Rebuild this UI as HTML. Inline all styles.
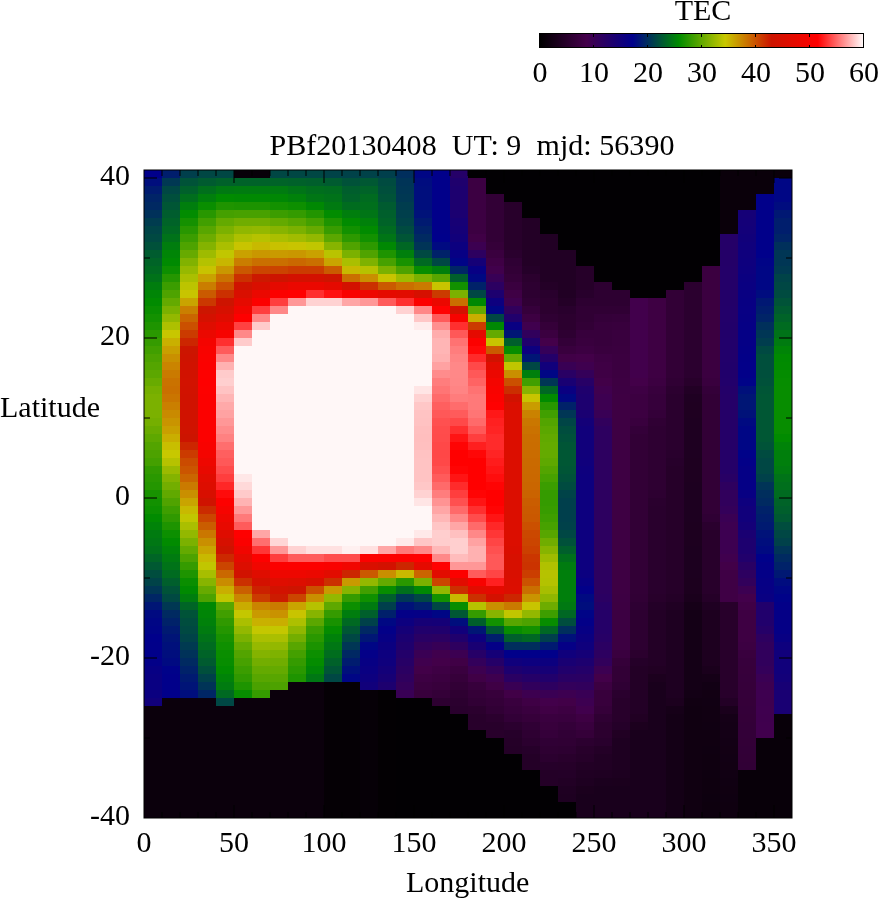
<!DOCTYPE html>
<html><head><meta charset="utf-8"><title>TEC map</title>
<style>html,body{margin:0;padding:0;background:#fff}svg{display:block}</style></head>
<body>
<svg width="878" height="900" viewBox="0 0 878 900">
<rect width="878" height="900" fill="#fff"/>
<g shape-rendering="crispEdges">
<rect x="144" y="170" width="648" height="648" fill="#000"/>
<rect x="144" y="170" width="18" height="8" fill="#01008a"/>
<rect x="144" y="178" width="18" height="8" fill="#000e7d"/>
<rect x="144" y="186" width="18" height="8" fill="#001b70"/>
<rect x="144" y="194" width="18" height="8" fill="#002467"/>
<rect x="144" y="202" width="18" height="8" fill="#002962"/>
<rect x="144" y="210" width="18" height="8" fill="#00315a"/>
<rect x="144" y="218" width="18" height="8" fill="#003c4f"/>
<rect x="144" y="226" width="18" height="8" fill="#004447"/>
<rect x="144" y="234" width="18" height="8" fill="#004942"/>
<rect x="144" y="242" width="18" height="8" fill="#00513a"/>
<rect x="144" y="250" width="18" height="8" fill="#005c2f"/>
<rect x="144" y="258" width="18" height="8" fill="#006427"/>
<rect x="144" y="266" width="18" height="8" fill="#006a21"/>
<rect x="144" y="274" width="18" height="8" fill="#007219"/>
<rect x="144" y="282" width="18" height="8" fill="#007d0e"/>
<rect x="144" y="290" width="18" height="8" fill="#008506"/>
<rect x="144" y="298" width="18" height="8" fill="#018b00"/>
<rect x="144" y="306" width="18" height="8" fill="#0a8e00"/>
<rect x="144" y="314" width="18" height="8" fill="#139100"/>
<rect x="144" y="322" width="18" height="8" fill="#1e9400"/>
<rect x="144" y="330" width="18" height="8" fill="#2a9800"/>
<rect x="144" y="338" width="18" height="8" fill="#359b00"/>
<rect x="144" y="346" width="18" height="8" fill="#419f00"/>
<rect x="144" y="354" width="18" height="8" fill="#4ca200"/>
<rect x="144" y="362" width="18" height="8" fill="#54a500"/>
<rect x="144" y="370" width="18" height="8" fill="#5ca700"/>
<rect x="144" y="378" width="18" height="8" fill="#68ab00"/>
<rect x="144" y="386" width="18" height="8" fill="#75af00"/>
<rect x="144" y="394" width="18" height="24" fill="#7bb100"/>
<rect x="144" y="418" width="18" height="8" fill="#75af00"/>
<rect x="144" y="426" width="18" height="8" fill="#6aab00"/>
<rect x="144" y="434" width="18" height="8" fill="#5ea800"/>
<rect x="144" y="442" width="18" height="8" fill="#53a400"/>
<rect x="144" y="450" width="18" height="8" fill="#4da200"/>
<rect x="144" y="458" width="18" height="8" fill="#44a000"/>
<rect x="144" y="466" width="18" height="8" fill="#329a00"/>
<rect x="144" y="474" width="18" height="8" fill="#2a9800"/>
<rect x="144" y="482" width="18" height="8" fill="#249600"/>
<rect x="144" y="490" width="18" height="8" fill="#189200"/>
<rect x="144" y="498" width="18" height="8" fill="#129100"/>
<rect x="144" y="506" width="18" height="8" fill="#0c8f00"/>
<rect x="144" y="514" width="18" height="8" fill="#018b00"/>
<rect x="144" y="522" width="18" height="8" fill="#008308"/>
<rect x="144" y="530" width="18" height="8" fill="#007b10"/>
<rect x="144" y="538" width="18" height="8" fill="#007714"/>
<rect x="144" y="546" width="18" height="8" fill="#00711a"/>
<rect x="144" y="554" width="18" height="8" fill="#006526"/>
<rect x="144" y="562" width="18" height="8" fill="#005932"/>
<rect x="144" y="570" width="18" height="8" fill="#004d3e"/>
<rect x="144" y="578" width="18" height="8" fill="#004348"/>
<rect x="144" y="586" width="18" height="8" fill="#003655"/>
<rect x="144" y="594" width="18" height="8" fill="#002665"/>
<rect x="144" y="602" width="18" height="8" fill="#001675"/>
<rect x="144" y="610" width="18" height="8" fill="#000a81"/>
<rect x="144" y="618" width="18" height="8" fill="#000685"/>
<rect x="144" y="626" width="18" height="8" fill="#000487"/>
<rect x="144" y="634" width="18" height="8" fill="#00008b"/>
<rect x="144" y="642" width="18" height="16" fill="#01008a"/>
<rect x="144" y="658" width="18" height="8" fill="#030088"/>
<rect x="144" y="666" width="18" height="8" fill="#070084"/>
<rect x="144" y="674" width="18" height="16" fill="#090082"/>
<rect x="144" y="690" width="18" height="8" fill="#0b0080"/>
<rect x="144" y="698" width="18" height="8" fill="#11007b"/>
<rect x="144" y="706" width="18" height="112" fill="#0b000c"/>
<rect x="162" y="170" width="18" height="8" fill="#001e6d"/>
<rect x="162" y="178" width="18" height="8" fill="#003853"/>
<rect x="162" y="186" width="18" height="8" fill="#004744"/>
<rect x="162" y="194" width="18" height="8" fill="#004f3c"/>
<rect x="162" y="202" width="18" height="8" fill="#005635"/>
<rect x="162" y="210" width="18" height="8" fill="#005d2e"/>
<rect x="162" y="218" width="18" height="8" fill="#006328"/>
<rect x="162" y="226" width="18" height="8" fill="#006922"/>
<rect x="162" y="234" width="18" height="8" fill="#007219"/>
<rect x="162" y="242" width="18" height="8" fill="#007d0e"/>
<rect x="162" y="250" width="18" height="8" fill="#008506"/>
<rect x="162" y="258" width="18" height="8" fill="#008a01"/>
<rect x="162" y="266" width="18" height="8" fill="#0d8f00"/>
<rect x="162" y="274" width="18" height="8" fill="#259600"/>
<rect x="162" y="282" width="18" height="8" fill="#3b9d00"/>
<rect x="162" y="290" width="18" height="8" fill="#4ea300"/>
<rect x="162" y="298" width="18" height="8" fill="#64aa00"/>
<rect x="162" y="306" width="18" height="8" fill="#7bb100"/>
<rect x="162" y="314" width="18" height="8" fill="#93b800"/>
<rect x="162" y="322" width="18" height="8" fill="#adc000"/>
<rect x="162" y="330" width="18" height="8" fill="#c8c600"/>
<rect x="162" y="338" width="18" height="8" fill="#c9b000"/>
<rect x="162" y="346" width="18" height="8" fill="#c99f00"/>
<rect x="162" y="354" width="18" height="8" fill="#c99000"/>
<rect x="162" y="362" width="18" height="8" fill="#ca8400"/>
<rect x="162" y="370" width="18" height="8" fill="#ca7a00"/>
<rect x="162" y="378" width="18" height="8" fill="#ca7200"/>
<rect x="162" y="386" width="18" height="8" fill="#ca6f00"/>
<rect x="162" y="394" width="18" height="8" fill="#ca7500"/>
<rect x="162" y="402" width="18" height="8" fill="#ca7f00"/>
<rect x="162" y="410" width="18" height="8" fill="#c98a00"/>
<rect x="162" y="418" width="18" height="8" fill="#c99400"/>
<rect x="162" y="426" width="18" height="8" fill="#c99f00"/>
<rect x="162" y="434" width="18" height="8" fill="#c9ae00"/>
<rect x="162" y="442" width="18" height="8" fill="#c8be00"/>
<rect x="162" y="450" width="18" height="8" fill="#c7c800"/>
<rect x="162" y="458" width="18" height="8" fill="#b6c200"/>
<rect x="162" y="466" width="18" height="8" fill="#9bba00"/>
<rect x="162" y="474" width="18" height="8" fill="#84b300"/>
<rect x="162" y="482" width="18" height="8" fill="#73ae00"/>
<rect x="162" y="490" width="18" height="8" fill="#61a900"/>
<rect x="162" y="498" width="18" height="8" fill="#50a300"/>
<rect x="162" y="506" width="18" height="8" fill="#3e9e00"/>
<rect x="162" y="514" width="18" height="8" fill="#309900"/>
<rect x="162" y="522" width="18" height="8" fill="#1e9400"/>
<rect x="162" y="530" width="18" height="8" fill="#0c8f00"/>
<rect x="162" y="538" width="18" height="8" fill="#018b00"/>
<rect x="162" y="546" width="18" height="8" fill="#008308"/>
<rect x="162" y="554" width="18" height="8" fill="#007b10"/>
<rect x="162" y="562" width="18" height="8" fill="#007318"/>
<rect x="162" y="570" width="18" height="8" fill="#006b20"/>
<rect x="162" y="578" width="18" height="8" fill="#005f2c"/>
<rect x="162" y="586" width="18" height="8" fill="#005338"/>
<rect x="162" y="594" width="18" height="8" fill="#004942"/>
<rect x="162" y="602" width="18" height="8" fill="#003853"/>
<rect x="162" y="610" width="18" height="8" fill="#002a61"/>
<rect x="162" y="618" width="18" height="8" fill="#002269"/>
<rect x="162" y="626" width="18" height="8" fill="#001a71"/>
<rect x="162" y="634" width="18" height="8" fill="#001477"/>
<rect x="162" y="642" width="18" height="8" fill="#00107b"/>
<rect x="162" y="650" width="18" height="8" fill="#000e7d"/>
<rect x="162" y="658" width="18" height="8" fill="#000a81"/>
<rect x="162" y="666" width="18" height="8" fill="#000289"/>
<rect x="162" y="674" width="18" height="24" fill="#01008a"/>
<rect x="162" y="698" width="18" height="120" fill="#0b000c"/>
<rect x="180" y="170" width="18" height="8" fill="#003f4c"/>
<rect x="180" y="178" width="18" height="8" fill="#005338"/>
<rect x="180" y="186" width="18" height="8" fill="#00602b"/>
<rect x="180" y="194" width="18" height="8" fill="#006e1d"/>
<rect x="180" y="202" width="18" height="8" fill="#007e0d"/>
<rect x="180" y="210" width="18" height="8" fill="#028c00"/>
<rect x="180" y="218" width="18" height="8" fill="#159100"/>
<rect x="180" y="226" width="18" height="8" fill="#289700"/>
<rect x="180" y="234" width="18" height="8" fill="#3b9d00"/>
<rect x="180" y="242" width="18" height="8" fill="#4ea300"/>
<rect x="180" y="250" width="18" height="8" fill="#67aa00"/>
<rect x="180" y="258" width="18" height="8" fill="#81b200"/>
<rect x="180" y="266" width="18" height="8" fill="#96b900"/>
<rect x="180" y="274" width="18" height="8" fill="#aabf00"/>
<rect x="180" y="282" width="18" height="8" fill="#bcc400"/>
<rect x="180" y="290" width="18" height="8" fill="#c8c400"/>
<rect x="180" y="298" width="18" height="8" fill="#c9a400"/>
<rect x="180" y="306" width="18" height="8" fill="#ca7f00"/>
<rect x="180" y="314" width="18" height="8" fill="#ca6500"/>
<rect x="180" y="322" width="18" height="8" fill="#cb5000"/>
<rect x="180" y="330" width="18" height="8" fill="#cb3b00"/>
<rect x="180" y="338" width="18" height="8" fill="#cc2600"/>
<rect x="180" y="346" width="18" height="8" fill="#cc1500"/>
<rect x="180" y="354" width="18" height="8" fill="#ce1300"/>
<rect x="180" y="362" width="18" height="8" fill="#d01200"/>
<rect x="180" y="370" width="18" height="8" fill="#d11200"/>
<rect x="180" y="378" width="18" height="8" fill="#d21200"/>
<rect x="180" y="386" width="18" height="8" fill="#d11200"/>
<rect x="180" y="394" width="18" height="32" fill="#d01200"/>
<rect x="180" y="426" width="18" height="8" fill="#cf1300"/>
<rect x="180" y="434" width="18" height="8" fill="#cc1400"/>
<rect x="180" y="442" width="18" height="8" fill="#cc2600"/>
<rect x="180" y="450" width="18" height="8" fill="#cb3b00"/>
<rect x="180" y="458" width="18" height="8" fill="#cb4b00"/>
<rect x="180" y="466" width="18" height="8" fill="#cb5500"/>
<rect x="180" y="474" width="18" height="8" fill="#ca6500"/>
<rect x="180" y="482" width="18" height="8" fill="#ca7a00"/>
<rect x="180" y="490" width="18" height="8" fill="#c98f00"/>
<rect x="180" y="498" width="18" height="8" fill="#c9a400"/>
<rect x="180" y="506" width="18" height="8" fill="#c8b900"/>
<rect x="180" y="514" width="18" height="8" fill="#c1c600"/>
<rect x="180" y="522" width="18" height="8" fill="#aabf00"/>
<rect x="180" y="530" width="18" height="8" fill="#93b800"/>
<rect x="180" y="538" width="18" height="8" fill="#7bb100"/>
<rect x="180" y="546" width="18" height="8" fill="#64aa00"/>
<rect x="180" y="554" width="18" height="8" fill="#4da200"/>
<rect x="180" y="562" width="18" height="8" fill="#359b00"/>
<rect x="180" y="570" width="18" height="8" fill="#1e9400"/>
<rect x="180" y="578" width="18" height="8" fill="#0a8e00"/>
<rect x="180" y="586" width="18" height="8" fill="#008a01"/>
<rect x="180" y="594" width="18" height="8" fill="#007d0e"/>
<rect x="180" y="602" width="18" height="8" fill="#006526"/>
<rect x="180" y="610" width="18" height="8" fill="#005338"/>
<rect x="180" y="618" width="18" height="8" fill="#004d3e"/>
<rect x="180" y="626" width="18" height="8" fill="#004942"/>
<rect x="180" y="634" width="18" height="8" fill="#004348"/>
<rect x="180" y="642" width="18" height="8" fill="#003a51"/>
<rect x="180" y="650" width="18" height="8" fill="#003259"/>
<rect x="180" y="658" width="18" height="8" fill="#002a61"/>
<rect x="180" y="666" width="18" height="8" fill="#002269"/>
<rect x="180" y="674" width="18" height="8" fill="#001a71"/>
<rect x="180" y="682" width="18" height="8" fill="#001477"/>
<rect x="180" y="690" width="18" height="8" fill="#000e7d"/>
<rect x="180" y="698" width="18" height="120" fill="#0b000c"/>
<rect x="198" y="170" width="18" height="8" fill="#004744"/>
<rect x="198" y="178" width="18" height="8" fill="#005b30"/>
<rect x="198" y="186" width="18" height="8" fill="#006f1c"/>
<rect x="198" y="194" width="18" height="8" fill="#007f0c"/>
<rect x="198" y="202" width="18" height="8" fill="#098e00"/>
<rect x="198" y="210" width="18" height="8" fill="#289700"/>
<rect x="198" y="218" width="18" height="8" fill="#419f00"/>
<rect x="198" y="226" width="18" height="8" fill="#58a600"/>
<rect x="198" y="234" width="18" height="8" fill="#6dac00"/>
<rect x="198" y="242" width="18" height="8" fill="#84b300"/>
<rect x="198" y="250" width="18" height="8" fill="#9ebb00"/>
<rect x="198" y="258" width="18" height="8" fill="#b4c200"/>
<rect x="198" y="266" width="18" height="8" fill="#c8c300"/>
<rect x="198" y="274" width="18" height="8" fill="#c9a200"/>
<rect x="198" y="282" width="18" height="8" fill="#ca7d00"/>
<rect x="198" y="290" width="18" height="8" fill="#ca5a00"/>
<rect x="198" y="298" width="18" height="8" fill="#cb3800"/>
<rect x="198" y="306" width="18" height="8" fill="#cc1600"/>
<rect x="198" y="314" width="18" height="8" fill="#d41100"/>
<rect x="198" y="322" width="18" height="8" fill="#df0d00"/>
<rect x="198" y="330" width="18" height="8" fill="#eb0800"/>
<rect x="198" y="338" width="18" height="8" fill="#f40400"/>
<rect x="198" y="346" width="18" height="8" fill="#f80300"/>
<rect x="198" y="354" width="18" height="8" fill="#fa0200"/>
<rect x="198" y="362" width="18" height="8" fill="#fb0100"/>
<rect x="198" y="370" width="18" height="8" fill="#fd0100"/>
<rect x="198" y="378" width="18" height="8" fill="#fe0000"/>
<rect x="198" y="386" width="18" height="8" fill="#fd0100"/>
<rect x="198" y="394" width="18" height="48" fill="#fc0100"/>
<rect x="198" y="442" width="18" height="8" fill="#f90200"/>
<rect x="198" y="450" width="18" height="8" fill="#f40500"/>
<rect x="198" y="458" width="18" height="8" fill="#ee0700"/>
<rect x="198" y="466" width="18" height="8" fill="#e80900"/>
<rect x="198" y="474" width="18" height="8" fill="#e10c00"/>
<rect x="198" y="482" width="18" height="8" fill="#dd0d00"/>
<rect x="198" y="490" width="18" height="8" fill="#d80f00"/>
<rect x="198" y="498" width="18" height="8" fill="#cf1300"/>
<rect x="198" y="506" width="18" height="8" fill="#cb2b00"/>
<rect x="198" y="514" width="18" height="8" fill="#cb4500"/>
<rect x="198" y="522" width="18" height="8" fill="#ca5d00"/>
<rect x="198" y="530" width="18" height="8" fill="#ca7700"/>
<rect x="198" y="538" width="18" height="8" fill="#c98f00"/>
<rect x="198" y="546" width="18" height="8" fill="#c9a400"/>
<rect x="198" y="554" width="18" height="8" fill="#c8b900"/>
<rect x="198" y="562" width="18" height="8" fill="#c1c600"/>
<rect x="198" y="570" width="18" height="8" fill="#a7be00"/>
<rect x="198" y="578" width="18" height="8" fill="#87b400"/>
<rect x="198" y="586" width="18" height="8" fill="#67aa00"/>
<rect x="198" y="594" width="18" height="8" fill="#4da200"/>
<rect x="198" y="602" width="18" height="8" fill="#008803"/>
<rect x="198" y="610" width="18" height="8" fill="#008506"/>
<rect x="198" y="618" width="18" height="8" fill="#00810a"/>
<rect x="198" y="626" width="18" height="8" fill="#007b10"/>
<rect x="198" y="634" width="18" height="8" fill="#007318"/>
<rect x="198" y="642" width="18" height="8" fill="#006b20"/>
<rect x="198" y="650" width="18" height="8" fill="#006328"/>
<rect x="198" y="658" width="18" height="8" fill="#005b30"/>
<rect x="198" y="666" width="18" height="8" fill="#004f3c"/>
<rect x="198" y="674" width="18" height="8" fill="#00414a"/>
<rect x="198" y="682" width="18" height="8" fill="#003457"/>
<rect x="198" y="690" width="18" height="8" fill="#002665"/>
<rect x="198" y="698" width="18" height="120" fill="#0b000c"/>
<rect x="216" y="170" width="18" height="8" fill="#004744"/>
<rect x="216" y="178" width="18" height="8" fill="#00612a"/>
<rect x="216" y="186" width="18" height="8" fill="#007912"/>
<rect x="216" y="194" width="18" height="8" fill="#008b00"/>
<rect x="216" y="202" width="18" height="8" fill="#1f9400"/>
<rect x="216" y="210" width="18" height="8" fill="#45a000"/>
<rect x="216" y="218" width="18" height="8" fill="#64aa00"/>
<rect x="216" y="226" width="18" height="8" fill="#7bb100"/>
<rect x="216" y="234" width="18" height="8" fill="#93b800"/>
<rect x="216" y="242" width="18" height="8" fill="#aabf00"/>
<rect x="216" y="250" width="18" height="8" fill="#c1c600"/>
<rect x="216" y="258" width="18" height="8" fill="#c8b600"/>
<rect x="216" y="266" width="18" height="8" fill="#c99700"/>
<rect x="216" y="274" width="18" height="8" fill="#ca7200"/>
<rect x="216" y="282" width="18" height="8" fill="#cb5000"/>
<rect x="216" y="290" width="18" height="8" fill="#cb3000"/>
<rect x="216" y="298" width="18" height="8" fill="#cd1400"/>
<rect x="216" y="306" width="18" height="8" fill="#d61000"/>
<rect x="216" y="314" width="18" height="8" fill="#df0c00"/>
<rect x="216" y="322" width="18" height="8" fill="#eb0800"/>
<rect x="216" y="330" width="18" height="8" fill="#f70300"/>
<rect x="216" y="338" width="18" height="8" fill="#ff2f2f"/>
<rect x="216" y="346" width="18" height="8" fill="#ff5b5b"/>
<rect x="216" y="354" width="18" height="8" fill="#f88"/>
<rect x="216" y="362" width="18" height="8" fill="#ffb1b1"/>
<rect x="216" y="370" width="18" height="8" fill="#ffcbcb"/>
<rect x="216" y="378" width="18" height="8" fill="#ffcfcf"/>
<rect x="216" y="386" width="18" height="8" fill="#ffc3c3"/>
<rect x="216" y="394" width="18" height="8" fill="#ffb5b5"/>
<rect x="216" y="402" width="18" height="8" fill="#ffa9a9"/>
<rect x="216" y="410" width="18" height="8" fill="#ffa2a2"/>
<rect x="216" y="418" width="18" height="8" fill="#ff9797"/>
<rect x="216" y="426" width="18" height="8" fill="#ff8c8c"/>
<rect x="216" y="434" width="18" height="8" fill="#ff8181"/>
<rect x="216" y="442" width="18" height="8" fill="#ff6e6e"/>
<rect x="216" y="450" width="18" height="8" fill="#ff5f5f"/>
<rect x="216" y="458" width="18" height="8" fill="#ff5858"/>
<rect x="216" y="466" width="18" height="8" fill="#ff4c4c"/>
<rect x="216" y="474" width="18" height="8" fill="#ff3e3e"/>
<rect x="216" y="482" width="18" height="8" fill="#ff2727"/>
<rect x="216" y="490" width="18" height="8" fill="#ff0b0b"/>
<rect x="216" y="498" width="18" height="8" fill="#fd0100"/>
<rect x="216" y="506" width="18" height="8" fill="#f60400"/>
<rect x="216" y="514" width="18" height="8" fill="#ee0700"/>
<rect x="216" y="522" width="18" height="8" fill="#e80900"/>
<rect x="216" y="530" width="18" height="8" fill="#df0c00"/>
<rect x="216" y="538" width="18" height="8" fill="#d61000"/>
<rect x="216" y="546" width="18" height="8" fill="#ce1300"/>
<rect x="216" y="554" width="18" height="8" fill="#cc2900"/>
<rect x="216" y="562" width="18" height="8" fill="#cb4500"/>
<rect x="216" y="570" width="18" height="8" fill="#ca6800"/>
<rect x="216" y="578" width="18" height="8" fill="#c98c00"/>
<rect x="216" y="586" width="18" height="8" fill="#c9ae00"/>
<rect x="216" y="594" width="18" height="8" fill="#c1c600"/>
<rect x="216" y="602" width="18" height="8" fill="#58a600"/>
<rect x="216" y="610" width="18" height="8" fill="#419f00"/>
<rect x="216" y="618" width="18" height="8" fill="#309900"/>
<rect x="216" y="626" width="18" height="8" fill="#249600"/>
<rect x="216" y="634" width="18" height="8" fill="#189200"/>
<rect x="216" y="642" width="18" height="8" fill="#0f9000"/>
<rect x="216" y="650" width="18" height="8" fill="#0a8e00"/>
<rect x="216" y="658" width="18" height="8" fill="#078d00"/>
<rect x="216" y="666" width="18" height="8" fill="#018b00"/>
<rect x="216" y="674" width="18" height="8" fill="#008308"/>
<rect x="216" y="682" width="18" height="8" fill="#007b10"/>
<rect x="216" y="690" width="18" height="8" fill="#006922"/>
<rect x="216" y="698" width="18" height="8" fill="#004744"/>
<rect x="216" y="706" width="18" height="112" fill="#0b000c"/>
<rect x="234" y="170" width="18" height="8" fill="#080009"/>
<rect x="234" y="178" width="18" height="8" fill="#006229"/>
<rect x="234" y="186" width="18" height="8" fill="#007b10"/>
<rect x="234" y="194" width="18" height="8" fill="#008902"/>
<rect x="234" y="202" width="18" height="8" fill="#1c9300"/>
<rect x="234" y="210" width="18" height="8" fill="#48a100"/>
<rect x="234" y="218" width="18" height="8" fill="#70ad00"/>
<rect x="234" y="226" width="18" height="8" fill="#90b700"/>
<rect x="234" y="234" width="18" height="8" fill="#adc000"/>
<rect x="234" y="242" width="18" height="8" fill="#c8c400"/>
<rect x="234" y="250" width="18" height="8" fill="#c9a100"/>
<rect x="234" y="258" width="18" height="8" fill="#ca7d00"/>
<rect x="234" y="266" width="18" height="8" fill="#ca5800"/>
<rect x="234" y="274" width="18" height="8" fill="#cb3000"/>
<rect x="234" y="282" width="18" height="8" fill="#cf1300"/>
<rect x="234" y="290" width="18" height="8" fill="#d90f00"/>
<rect x="234" y="298" width="18" height="8" fill="#e50a00"/>
<rect x="234" y="306" width="18" height="8" fill="#f10500"/>
<rect x="234" y="314" width="18" height="8" fill="#fe0000"/>
<rect x="234" y="322" width="18" height="8" fill="#ff4141"/>
<rect x="234" y="330" width="18" height="8" fill="#f88"/>
<rect x="234" y="338" width="18" height="8" fill="#ffcbcb"/>
<rect x="234" y="346" width="18" height="128" fill="#fff7f7"/>
<rect x="234" y="474" width="18" height="8" fill="#ffe7e7"/>
<rect x="234" y="482" width="18" height="8" fill="#ffd9d9"/>
<rect x="234" y="490" width="18" height="8" fill="#ffcaca"/>
<rect x="234" y="498" width="18" height="8" fill="#ffb3b3"/>
<rect x="234" y="506" width="18" height="8" fill="#ff9797"/>
<rect x="234" y="514" width="18" height="8" fill="#ff7979"/>
<rect x="234" y="522" width="18" height="8" fill="#ff5b5b"/>
<rect x="234" y="530" width="18" height="8" fill="#f00"/>
<rect x="234" y="538" width="18" height="8" fill="#fb0100"/>
<rect x="234" y="546" width="18" height="8" fill="#f10500"/>
<rect x="234" y="554" width="18" height="8" fill="#e50a00"/>
<rect x="234" y="562" width="18" height="8" fill="#dc0e00"/>
<rect x="234" y="570" width="18" height="8" fill="#d11200"/>
<rect x="234" y="578" width="18" height="8" fill="#cb3000"/>
<rect x="234" y="586" width="18" height="8" fill="#ca6000"/>
<rect x="234" y="594" width="18" height="8" fill="#c98700"/>
<rect x="234" y="602" width="18" height="8" fill="#c9ac00"/>
<rect x="234" y="610" width="18" height="8" fill="#c4c700"/>
<rect x="234" y="618" width="18" height="8" fill="#aabf00"/>
<rect x="234" y="626" width="18" height="8" fill="#93b800"/>
<rect x="234" y="634" width="18" height="8" fill="#7bb100"/>
<rect x="234" y="642" width="18" height="8" fill="#64aa00"/>
<rect x="234" y="650" width="18" height="8" fill="#53a400"/>
<rect x="234" y="658" width="18" height="8" fill="#47a100"/>
<rect x="234" y="666" width="18" height="8" fill="#3b9d00"/>
<rect x="234" y="674" width="18" height="8" fill="#309900"/>
<rect x="234" y="682" width="18" height="8" fill="#1e9400"/>
<rect x="234" y="690" width="18" height="8" fill="#078d00"/>
<rect x="234" y="698" width="18" height="120" fill="#0b000c"/>
<rect x="252" y="170" width="18" height="8" fill="#080009"/>
<rect x="252" y="178" width="18" height="8" fill="#006229"/>
<rect x="252" y="186" width="18" height="8" fill="#007b10"/>
<rect x="252" y="194" width="18" height="8" fill="#008902"/>
<rect x="252" y="202" width="18" height="8" fill="#1c9300"/>
<rect x="252" y="210" width="18" height="8" fill="#48a100"/>
<rect x="252" y="218" width="18" height="8" fill="#70ad00"/>
<rect x="252" y="226" width="18" height="8" fill="#93b800"/>
<rect x="252" y="234" width="18" height="8" fill="#b6c200"/>
<rect x="252" y="242" width="18" height="8" fill="#c8b900"/>
<rect x="252" y="250" width="18" height="8" fill="#c99700"/>
<rect x="252" y="258" width="18" height="8" fill="#ca6f00"/>
<rect x="252" y="266" width="18" height="8" fill="#cb4500"/>
<rect x="252" y="274" width="18" height="8" fill="#cc1900"/>
<rect x="252" y="282" width="18" height="8" fill="#d90f00"/>
<rect x="252" y="290" width="18" height="8" fill="#eb0800"/>
<rect x="252" y="298" width="18" height="8" fill="#fc0100"/>
<rect x="252" y="306" width="18" height="8" fill="#ff3e3e"/>
<rect x="252" y="314" width="18" height="8" fill="#f88"/>
<rect x="252" y="322" width="18" height="8" fill="#ffcbcb"/>
<rect x="252" y="330" width="18" height="200" fill="#fff7f7"/>
<rect x="252" y="530" width="18" height="8" fill="#ffa6a6"/>
<rect x="252" y="538" width="18" height="8" fill="#ff6e6e"/>
<rect x="252" y="546" width="18" height="8" fill="#ff3636"/>
<rect x="252" y="554" width="18" height="8" fill="#fd0100"/>
<rect x="252" y="562" width="18" height="8" fill="#f10600"/>
<rect x="252" y="570" width="18" height="8" fill="#df0d00"/>
<rect x="252" y="578" width="18" height="8" fill="#d31100"/>
<rect x="252" y="586" width="18" height="8" fill="#cc2100"/>
<rect x="252" y="594" width="18" height="8" fill="#cb3b00"/>
<rect x="252" y="602" width="18" height="8" fill="#ca8400"/>
<rect x="252" y="610" width="18" height="8" fill="#c99a00"/>
<rect x="252" y="618" width="18" height="8" fill="#c9b100"/>
<rect x="252" y="626" width="18" height="8" fill="#c4c700"/>
<rect x="252" y="634" width="18" height="8" fill="#aabf00"/>
<rect x="252" y="642" width="18" height="8" fill="#96b900"/>
<rect x="252" y="650" width="18" height="8" fill="#84b300"/>
<rect x="252" y="658" width="18" height="8" fill="#73ae00"/>
<rect x="252" y="666" width="18" height="8" fill="#64aa00"/>
<rect x="252" y="674" width="18" height="8" fill="#58a600"/>
<rect x="252" y="682" width="18" height="8" fill="#4aa100"/>
<rect x="252" y="690" width="18" height="8" fill="#359b00"/>
<rect x="252" y="698" width="18" height="120" fill="#0b000c"/>
<rect x="270" y="170" width="18" height="8" fill="#004744"/>
<rect x="270" y="178" width="18" height="8" fill="#006328"/>
<rect x="270" y="186" width="18" height="8" fill="#007b10"/>
<rect x="270" y="194" width="18" height="8" fill="#008704"/>
<rect x="270" y="202" width="18" height="8" fill="#139100"/>
<rect x="270" y="210" width="18" height="8" fill="#3c9d00"/>
<rect x="270" y="218" width="18" height="8" fill="#64aa00"/>
<rect x="270" y="226" width="18" height="8" fill="#87b400"/>
<rect x="270" y="234" width="18" height="8" fill="#aabf00"/>
<rect x="270" y="242" width="18" height="8" fill="#c8c100"/>
<rect x="270" y="250" width="18" height="8" fill="#c99a00"/>
<rect x="270" y="258" width="18" height="8" fill="#ca6f00"/>
<rect x="270" y="266" width="18" height="8" fill="#cb4300"/>
<rect x="270" y="274" width="18" height="8" fill="#cd1400"/>
<rect x="270" y="282" width="18" height="8" fill="#e50a00"/>
<rect x="270" y="290" width="18" height="8" fill="#fc0100"/>
<rect x="270" y="298" width="18" height="8" fill="#ff3e3e"/>
<rect x="270" y="306" width="18" height="8" fill="#f88"/>
<rect x="270" y="314" width="18" height="224" fill="#fff7f7"/>
<rect x="270" y="538" width="18" height="8" fill="#ffd6d6"/>
<rect x="270" y="546" width="18" height="8" fill="#ff9797"/>
<rect x="270" y="554" width="18" height="8" fill="#ff3e3e"/>
<rect x="270" y="562" width="18" height="8" fill="#fc0100"/>
<rect x="270" y="570" width="18" height="8" fill="#ee0700"/>
<rect x="270" y="578" width="18" height="8" fill="#df0d00"/>
<rect x="270" y="586" width="18" height="8" fill="#d21200"/>
<rect x="270" y="594" width="18" height="8" fill="#cc1b00"/>
<rect x="270" y="602" width="18" height="8" fill="#ca7a00"/>
<rect x="270" y="610" width="18" height="8" fill="#c99200"/>
<rect x="270" y="618" width="18" height="8" fill="#c9ae00"/>
<rect x="270" y="626" width="18" height="8" fill="#c4c700"/>
<rect x="270" y="634" width="18" height="8" fill="#aabf00"/>
<rect x="270" y="642" width="18" height="8" fill="#93b800"/>
<rect x="270" y="650" width="18" height="8" fill="#7eb200"/>
<rect x="270" y="658" width="18" height="8" fill="#70ad00"/>
<rect x="270" y="666" width="18" height="8" fill="#64aa00"/>
<rect x="270" y="674" width="18" height="8" fill="#58a600"/>
<rect x="270" y="682" width="18" height="8" fill="#4da200"/>
<rect x="270" y="690" width="18" height="128" fill="#0b000c"/>
<rect x="288" y="170" width="18" height="8" fill="#004744"/>
<rect x="288" y="178" width="18" height="8" fill="#00612a"/>
<rect x="288" y="186" width="18" height="8" fill="#007417"/>
<rect x="288" y="194" width="18" height="8" fill="#00810a"/>
<rect x="288" y="202" width="18" height="8" fill="#0d8f00"/>
<rect x="288" y="210" width="18" height="8" fill="#349b00"/>
<rect x="288" y="218" width="18" height="8" fill="#58a600"/>
<rect x="288" y="226" width="18" height="8" fill="#7bb100"/>
<rect x="288" y="234" width="18" height="8" fill="#a1bc00"/>
<rect x="288" y="242" width="18" height="8" fill="#c8c400"/>
<rect x="288" y="250" width="18" height="8" fill="#c99700"/>
<rect x="288" y="258" width="18" height="8" fill="#ca6800"/>
<rect x="288" y="266" width="18" height="8" fill="#cb3b00"/>
<rect x="288" y="274" width="18" height="8" fill="#d31100"/>
<rect x="288" y="282" width="18" height="8" fill="#eb0800"/>
<rect x="288" y="290" width="18" height="8" fill="#f00"/>
<rect x="288" y="298" width="18" height="8" fill="#ff9797"/>
<rect x="288" y="306" width="18" height="240" fill="#fff7f7"/>
<rect x="288" y="546" width="18" height="8" fill="#ffd2d2"/>
<rect x="288" y="554" width="18" height="8" fill="#ff5b5b"/>
<rect x="288" y="562" width="18" height="8" fill="#fc0100"/>
<rect x="288" y="570" width="18" height="8" fill="#ee0700"/>
<rect x="288" y="578" width="18" height="8" fill="#dc0e00"/>
<rect x="288" y="586" width="18" height="8" fill="#cd1400"/>
<rect x="288" y="594" width="18" height="8" fill="#cb4500"/>
<rect x="288" y="602" width="18" height="8" fill="#c9a400"/>
<rect x="288" y="610" width="18" height="8" fill="#c8c400"/>
<rect x="288" y="618" width="18" height="8" fill="#adc000"/>
<rect x="288" y="626" width="18" height="8" fill="#90b700"/>
<rect x="288" y="634" width="18" height="8" fill="#73ae00"/>
<rect x="288" y="642" width="18" height="8" fill="#58a600"/>
<rect x="288" y="650" width="18" height="8" fill="#44a000"/>
<rect x="288" y="658" width="18" height="8" fill="#359b00"/>
<rect x="288" y="666" width="18" height="8" fill="#2a9800"/>
<rect x="288" y="674" width="18" height="8" fill="#1e9400"/>
<rect x="288" y="682" width="18" height="136" fill="#0b000c"/>
<rect x="306" y="170" width="18" height="8" fill="#004744"/>
<rect x="306" y="178" width="18" height="8" fill="#005f2c"/>
<rect x="306" y="186" width="18" height="8" fill="#006e1d"/>
<rect x="306" y="194" width="18" height="8" fill="#007615"/>
<rect x="306" y="202" width="18" height="8" fill="#008803"/>
<rect x="306" y="210" width="18" height="8" fill="#229500"/>
<rect x="306" y="218" width="18" height="8" fill="#44a000"/>
<rect x="306" y="226" width="18" height="8" fill="#67aa00"/>
<rect x="306" y="234" width="18" height="8" fill="#93b800"/>
<rect x="306" y="242" width="18" height="8" fill="#c1c600"/>
<rect x="306" y="250" width="18" height="8" fill="#c9a100"/>
<rect x="306" y="258" width="18" height="8" fill="#ca6f00"/>
<rect x="306" y="266" width="18" height="8" fill="#cb3b00"/>
<rect x="306" y="274" width="18" height="8" fill="#d31100"/>
<rect x="306" y="282" width="18" height="8" fill="#eb0800"/>
<rect x="306" y="290" width="18" height="8" fill="#ff2f2f"/>
<rect x="306" y="298" width="18" height="8" fill="#ffd2d2"/>
<rect x="306" y="306" width="18" height="240" fill="#fff7f7"/>
<rect x="306" y="546" width="18" height="8" fill="#ffe1e1"/>
<rect x="306" y="554" width="18" height="8" fill="#ff5b5b"/>
<rect x="306" y="562" width="18" height="8" fill="#fc0100"/>
<rect x="306" y="570" width="18" height="8" fill="#eb0800"/>
<rect x="306" y="578" width="18" height="8" fill="#d61000"/>
<rect x="306" y="586" width="18" height="8" fill="#cb5000"/>
<rect x="306" y="594" width="18" height="8" fill="#c98f00"/>
<rect x="306" y="602" width="18" height="8" fill="#b6c200"/>
<rect x="306" y="610" width="18" height="8" fill="#87b400"/>
<rect x="306" y="618" width="18" height="8" fill="#5ba700"/>
<rect x="306" y="626" width="18" height="8" fill="#3b9d00"/>
<rect x="306" y="634" width="18" height="8" fill="#2a9800"/>
<rect x="306" y="642" width="18" height="8" fill="#1b9300"/>
<rect x="306" y="650" width="18" height="8" fill="#0c8f00"/>
<rect x="306" y="658" width="18" height="8" fill="#048c00"/>
<rect x="306" y="666" width="18" height="8" fill="#008506"/>
<rect x="306" y="674" width="18" height="8" fill="#007714"/>
<rect x="306" y="682" width="18" height="136" fill="#0b000c"/>
<rect x="324" y="170" width="18" height="8" fill="#004348"/>
<rect x="324" y="178" width="18" height="8" fill="#005b30"/>
<rect x="324" y="186" width="18" height="8" fill="#006c1f"/>
<rect x="324" y="194" width="18" height="8" fill="#007219"/>
<rect x="324" y="202" width="18" height="8" fill="#007a11"/>
<rect x="324" y="210" width="18" height="8" fill="#028c00"/>
<rect x="324" y="218" width="18" height="8" fill="#1e9400"/>
<rect x="324" y="226" width="18" height="8" fill="#389c00"/>
<rect x="324" y="234" width="18" height="8" fill="#5ba700"/>
<rect x="324" y="242" width="18" height="8" fill="#87b400"/>
<rect x="324" y="250" width="18" height="8" fill="#b9c300"/>
<rect x="324" y="258" width="18" height="8" fill="#c9a400"/>
<rect x="324" y="266" width="18" height="8" fill="#ca5a00"/>
<rect x="324" y="274" width="18" height="8" fill="#cd1400"/>
<rect x="324" y="282" width="18" height="8" fill="#e50a00"/>
<rect x="324" y="290" width="18" height="8" fill="#f11"/>
<rect x="324" y="298" width="18" height="8" fill="#ffd2d2"/>
<rect x="324" y="306" width="18" height="240" fill="#fff7f7"/>
<rect x="324" y="546" width="18" height="8" fill="#ffe1e1"/>
<rect x="324" y="554" width="18" height="8" fill="#ff4c4c"/>
<rect x="324" y="562" width="18" height="8" fill="#f90200"/>
<rect x="324" y="570" width="18" height="8" fill="#e20c00"/>
<rect x="324" y="578" width="18" height="8" fill="#cb3000"/>
<rect x="324" y="586" width="18" height="8" fill="#c99a00"/>
<rect x="324" y="594" width="18" height="8" fill="#93b800"/>
<rect x="324" y="602" width="18" height="8" fill="#5ea800"/>
<rect x="324" y="610" width="18" height="8" fill="#359b00"/>
<rect x="324" y="618" width="18" height="8" fill="#189200"/>
<rect x="324" y="626" width="18" height="8" fill="#048c00"/>
<rect x="324" y="634" width="18" height="8" fill="#00810a"/>
<rect x="324" y="642" width="18" height="8" fill="#007714"/>
<rect x="324" y="650" width="18" height="8" fill="#006d1e"/>
<rect x="324" y="658" width="18" height="8" fill="#00612a"/>
<rect x="324" y="666" width="18" height="8" fill="#005536"/>
<rect x="324" y="674" width="18" height="8" fill="#004744"/>
<rect x="324" y="682" width="18" height="136" fill="#050005"/>
<rect x="342" y="170" width="18" height="8" fill="#004249"/>
<rect x="342" y="178" width="18" height="8" fill="#005239"/>
<rect x="342" y="186" width="18" height="8" fill="#005e2d"/>
<rect x="342" y="194" width="18" height="8" fill="#006229"/>
<rect x="342" y="202" width="18" height="8" fill="#006c1f"/>
<rect x="342" y="210" width="18" height="8" fill="#007e0d"/>
<rect x="342" y="218" width="18" height="8" fill="#018b00"/>
<rect x="342" y="226" width="18" height="8" fill="#129100"/>
<rect x="342" y="234" width="18" height="8" fill="#2d9900"/>
<rect x="342" y="242" width="18" height="8" fill="#50a300"/>
<rect x="342" y="250" width="18" height="8" fill="#7bb100"/>
<rect x="342" y="258" width="18" height="8" fill="#aabf00"/>
<rect x="342" y="266" width="18" height="8" fill="#c8b900"/>
<rect x="342" y="274" width="18" height="8" fill="#ca6f00"/>
<rect x="342" y="282" width="18" height="8" fill="#d31100"/>
<rect x="342" y="290" width="18" height="8" fill="#f90200"/>
<rect x="342" y="298" width="18" height="8" fill="#ffa6a6"/>
<rect x="342" y="306" width="18" height="240" fill="#fff7f7"/>
<rect x="342" y="546" width="18" height="8" fill="#fff0f0"/>
<rect x="342" y="554" width="18" height="8" fill="#ff4c4c"/>
<rect x="342" y="562" width="18" height="8" fill="#f10600"/>
<rect x="342" y="570" width="18" height="8" fill="#cc2600"/>
<rect x="342" y="578" width="18" height="8" fill="#c99a00"/>
<rect x="342" y="586" width="18" height="8" fill="#87b400"/>
<rect x="342" y="594" width="18" height="8" fill="#359b00"/>
<rect x="342" y="602" width="18" height="8" fill="#0c8f00"/>
<rect x="342" y="610" width="18" height="8" fill="#007d0e"/>
<rect x="342" y="618" width="18" height="8" fill="#006922"/>
<rect x="342" y="626" width="18" height="8" fill="#005734"/>
<rect x="342" y="634" width="18" height="8" fill="#004744"/>
<rect x="342" y="642" width="18" height="8" fill="#003655"/>
<rect x="342" y="650" width="18" height="8" fill="#002863"/>
<rect x="342" y="658" width="18" height="8" fill="#001c6f"/>
<rect x="342" y="666" width="18" height="8" fill="#00107b"/>
<rect x="342" y="674" width="18" height="8" fill="#000685"/>
<rect x="342" y="682" width="18" height="136" fill="#050005"/>
<rect x="360" y="170" width="18" height="8" fill="#004249"/>
<rect x="360" y="178" width="18" height="8" fill="#005833"/>
<rect x="360" y="186" width="18" height="8" fill="#006328"/>
<rect x="360" y="194" width="18" height="8" fill="#006b20"/>
<rect x="360" y="202" width="18" height="8" fill="#006f1c"/>
<rect x="360" y="210" width="18" height="8" fill="#007516"/>
<rect x="360" y="218" width="18" height="8" fill="#00810a"/>
<rect x="360" y="226" width="18" height="8" fill="#018b00"/>
<rect x="360" y="234" width="18" height="8" fill="#129100"/>
<rect x="360" y="242" width="18" height="8" fill="#2d9900"/>
<rect x="360" y="250" width="18" height="8" fill="#50a300"/>
<rect x="360" y="258" width="18" height="8" fill="#7eb200"/>
<rect x="360" y="266" width="18" height="8" fill="#b6c200"/>
<rect x="360" y="274" width="18" height="8" fill="#c98f00"/>
<rect x="360" y="282" width="18" height="8" fill="#cb3000"/>
<rect x="360" y="290" width="18" height="8" fill="#ee0700"/>
<rect x="360" y="298" width="18" height="8" fill="#ff9797"/>
<rect x="360" y="306" width="18" height="240" fill="#fff7f7"/>
<rect x="360" y="546" width="18" height="8" fill="#ffe1e1"/>
<rect x="360" y="554" width="18" height="8" fill="#fc0100"/>
<rect x="360" y="562" width="18" height="8" fill="#d90f00"/>
<rect x="360" y="570" width="18" height="8" fill="#ca5a00"/>
<rect x="360" y="578" width="18" height="8" fill="#93b800"/>
<rect x="360" y="586" width="18" height="8" fill="#419f00"/>
<rect x="360" y="594" width="18" height="8" fill="#0f9000"/>
<rect x="360" y="602" width="18" height="8" fill="#007b10"/>
<rect x="360" y="610" width="18" height="8" fill="#005f2c"/>
<rect x="360" y="618" width="18" height="8" fill="#00414a"/>
<rect x="360" y="626" width="18" height="8" fill="#002863"/>
<rect x="360" y="634" width="18" height="8" fill="#001675"/>
<rect x="360" y="642" width="18" height="8" fill="#000685"/>
<rect x="360" y="650" width="18" height="8" fill="#040088"/>
<rect x="360" y="658" width="18" height="8" fill="#070084"/>
<rect x="360" y="666" width="18" height="8" fill="#0a0082"/>
<rect x="360" y="674" width="18" height="8" fill="#0d007f"/>
<rect x="360" y="682" width="18" height="8" fill="#11007b"/>
<rect x="360" y="690" width="18" height="128" fill="#060007"/>
<rect x="378" y="170" width="18" height="8" fill="#003f4c"/>
<rect x="378" y="178" width="18" height="8" fill="#004b40"/>
<rect x="378" y="186" width="18" height="8" fill="#004f3c"/>
<rect x="378" y="194" width="18" height="8" fill="#005338"/>
<rect x="378" y="202" width="18" height="8" fill="#005b30"/>
<rect x="378" y="210" width="18" height="8" fill="#005f2c"/>
<rect x="378" y="218" width="18" height="8" fill="#006328"/>
<rect x="378" y="226" width="18" height="8" fill="#006b20"/>
<rect x="378" y="234" width="18" height="8" fill="#007516"/>
<rect x="378" y="242" width="18" height="8" fill="#008803"/>
<rect x="378" y="250" width="18" height="8" fill="#1e9400"/>
<rect x="378" y="258" width="18" height="8" fill="#47a100"/>
<rect x="378" y="266" width="18" height="8" fill="#7bb100"/>
<rect x="378" y="274" width="18" height="8" fill="#c8c400"/>
<rect x="378" y="282" width="18" height="8" fill="#ca5a00"/>
<rect x="378" y="290" width="18" height="8" fill="#e50a00"/>
<rect x="378" y="298" width="18" height="8" fill="#ff5b5b"/>
<rect x="378" y="306" width="18" height="240" fill="#fff7f7"/>
<rect x="378" y="546" width="18" height="8" fill="#ffa6a6"/>
<rect x="378" y="554" width="18" height="8" fill="#fc0100"/>
<rect x="378" y="562" width="18" height="8" fill="#d31100"/>
<rect x="378" y="570" width="18" height="8" fill="#c98f00"/>
<rect x="378" y="578" width="18" height="8" fill="#64aa00"/>
<rect x="378" y="586" width="18" height="8" fill="#078d00"/>
<rect x="378" y="594" width="18" height="8" fill="#005f2c"/>
<rect x="378" y="602" width="18" height="8" fill="#003f4c"/>
<rect x="378" y="610" width="18" height="8" fill="#00206b"/>
<rect x="378" y="618" width="18" height="8" fill="#000883"/>
<rect x="378" y="626" width="18" height="8" fill="#030088"/>
<rect x="378" y="634" width="18" height="8" fill="#070084"/>
<rect x="378" y="642" width="18" height="8" fill="#0b0080"/>
<rect x="378" y="650" width="18" height="8" fill="#0d007f"/>
<rect x="378" y="658" width="18" height="8" fill="#0f007d"/>
<rect x="378" y="666" width="18" height="8" fill="#130079"/>
<rect x="378" y="674" width="18" height="8" fill="#170075"/>
<rect x="378" y="682" width="18" height="8" fill="#1d006f"/>
<rect x="378" y="690" width="18" height="128" fill="#030003"/>
<rect x="396" y="170" width="18" height="8" fill="#002e5d"/>
<rect x="396" y="178" width="18" height="8" fill="#003457"/>
<rect x="396" y="186" width="18" height="8" fill="#003655"/>
<rect x="396" y="194" width="18" height="8" fill="#003853"/>
<rect x="396" y="202" width="18" height="8" fill="#003d4e"/>
<rect x="396" y="210" width="18" height="8" fill="#003f4c"/>
<rect x="396" y="218" width="18" height="8" fill="#004348"/>
<rect x="396" y="226" width="18" height="8" fill="#004b40"/>
<rect x="396" y="234" width="18" height="8" fill="#005536"/>
<rect x="396" y="242" width="18" height="8" fill="#006724"/>
<rect x="396" y="250" width="18" height="8" fill="#007f0c"/>
<rect x="396" y="258" width="18" height="8" fill="#189200"/>
<rect x="396" y="266" width="18" height="8" fill="#4da200"/>
<rect x="396" y="274" width="18" height="8" fill="#9ebb00"/>
<rect x="396" y="282" width="18" height="8" fill="#ca6f00"/>
<rect x="396" y="290" width="18" height="8" fill="#e20c00"/>
<rect x="396" y="298" width="18" height="8" fill="#ff2f2f"/>
<rect x="396" y="306" width="18" height="8" fill="#ffd2d2"/>
<rect x="396" y="314" width="18" height="224" fill="#fff7f7"/>
<rect x="396" y="538" width="18" height="8" fill="#ffeaea"/>
<rect x="396" y="546" width="18" height="8" fill="#ff7979"/>
<rect x="396" y="554" width="18" height="8" fill="#fc0100"/>
<rect x="396" y="562" width="18" height="8" fill="#cc2600"/>
<rect x="396" y="570" width="18" height="8" fill="#c8b900"/>
<rect x="396" y="578" width="18" height="8" fill="#2a9800"/>
<rect x="396" y="586" width="18" height="8" fill="#006f1c"/>
<rect x="396" y="594" width="18" height="8" fill="#003655"/>
<rect x="396" y="602" width="18" height="8" fill="#001279"/>
<rect x="396" y="610" width="18" height="8" fill="#040087"/>
<rect x="396" y="618" width="18" height="8" fill="#0d007f"/>
<rect x="396" y="626" width="18" height="8" fill="#150077"/>
<rect x="396" y="634" width="18" height="8" fill="#1b0071"/>
<rect x="396" y="642" width="18" height="8" fill="#1f006d"/>
<rect x="396" y="650" width="18" height="8" fill="#23006a"/>
<rect x="396" y="658" width="18" height="8" fill="#270066"/>
<rect x="396" y="666" width="18" height="8" fill="#2b0062"/>
<rect x="396" y="674" width="18" height="8" fill="#2f005e"/>
<rect x="396" y="682" width="18" height="8" fill="#34005a"/>
<rect x="396" y="690" width="18" height="8" fill="#390055"/>
<rect x="396" y="698" width="18" height="120" fill="#020003"/>
<rect x="414" y="170" width="18" height="8" fill="#000685"/>
<rect x="414" y="178" width="18" height="8" fill="#000c7f"/>
<rect x="414" y="186" width="18" height="24" fill="#000e7d"/>
<rect x="414" y="210" width="18" height="8" fill="#001279"/>
<rect x="414" y="218" width="18" height="8" fill="#001a71"/>
<rect x="414" y="226" width="18" height="8" fill="#002269"/>
<rect x="414" y="234" width="18" height="8" fill="#002a61"/>
<rect x="414" y="242" width="18" height="8" fill="#003457"/>
<rect x="414" y="250" width="18" height="8" fill="#004942"/>
<rect x="414" y="258" width="18" height="8" fill="#006922"/>
<rect x="414" y="266" width="18" height="8" fill="#078d00"/>
<rect x="414" y="274" width="18" height="8" fill="#7bb100"/>
<rect x="414" y="282" width="18" height="8" fill="#ca7a00"/>
<rect x="414" y="290" width="18" height="8" fill="#d61000"/>
<rect x="414" y="298" width="18" height="8" fill="#fc0100"/>
<rect x="414" y="306" width="18" height="8" fill="#f88"/>
<rect x="414" y="314" width="18" height="8" fill="#ffc7c7"/>
<rect x="414" y="322" width="18" height="8" fill="#ffecec"/>
<rect x="414" y="330" width="18" height="56" fill="#fff7f7"/>
<rect x="414" y="386" width="18" height="8" fill="#ffe5e5"/>
<rect x="414" y="394" width="18" height="8" fill="#ffd2d2"/>
<rect x="414" y="402" width="18" height="8" fill="#ffc7c7"/>
<rect x="414" y="410" width="18" height="8" fill="#ffc3c3"/>
<rect x="414" y="418" width="18" height="8" fill="#ffc2c2"/>
<rect x="414" y="426" width="18" height="8" fill="#ffbfbf"/>
<rect x="414" y="434" width="18" height="8" fill="#ffbebe"/>
<rect x="414" y="442" width="18" height="8" fill="#ffbfbf"/>
<rect x="414" y="450" width="18" height="8" fill="#ffc2c2"/>
<rect x="414" y="458" width="18" height="24" fill="#ffc3c3"/>
<rect x="414" y="482" width="18" height="8" fill="#ffc7c7"/>
<rect x="414" y="490" width="18" height="8" fill="#ffd2d2"/>
<rect x="414" y="498" width="18" height="8" fill="#ffe5e5"/>
<rect x="414" y="506" width="18" height="24" fill="#fff7f7"/>
<rect x="414" y="530" width="18" height="8" fill="#ffe9e9"/>
<rect x="414" y="538" width="18" height="8" fill="#ffc6c6"/>
<rect x="414" y="546" width="18" height="8" fill="#f88"/>
<rect x="414" y="554" width="18" height="8" fill="#f00"/>
<rect x="414" y="562" width="18" height="8" fill="#e50a00"/>
<rect x="414" y="570" width="18" height="8" fill="#ca6500"/>
<rect x="414" y="578" width="18" height="8" fill="#7bb100"/>
<rect x="414" y="586" width="18" height="8" fill="#008803"/>
<rect x="414" y="594" width="18" height="8" fill="#004744"/>
<rect x="414" y="602" width="18" height="8" fill="#001e6d"/>
<rect x="414" y="610" width="18" height="8" fill="#050086"/>
<rect x="414" y="618" width="18" height="8" fill="#160076"/>
<rect x="414" y="626" width="18" height="8" fill="#21006c"/>
<rect x="414" y="634" width="18" height="8" fill="#290064"/>
<rect x="414" y="642" width="18" height="8" fill="#32005b"/>
<rect x="414" y="650" width="18" height="8" fill="#3a0054"/>
<rect x="414" y="658" width="18" height="8" fill="#40004e"/>
<rect x="414" y="666" width="18" height="8" fill="#420048"/>
<rect x="414" y="674" width="18" height="8" fill="#3d0043"/>
<rect x="414" y="682" width="18" height="8" fill="#3a003f"/>
<rect x="414" y="690" width="18" height="8" fill="#38003c"/>
<rect x="414" y="698" width="18" height="120" fill="#020003"/>
<rect x="432" y="170" width="18" height="64" fill="#01008a"/>
<rect x="432" y="234" width="18" height="8" fill="#00008b"/>
<rect x="432" y="242" width="18" height="8" fill="#000a81"/>
<rect x="432" y="250" width="18" height="8" fill="#002269"/>
<rect x="432" y="258" width="18" height="8" fill="#004744"/>
<rect x="432" y="266" width="18" height="8" fill="#007f0c"/>
<rect x="432" y="274" width="18" height="8" fill="#58a600"/>
<rect x="432" y="282" width="18" height="8" fill="#c8c400"/>
<rect x="432" y="290" width="18" height="8" fill="#cb3b00"/>
<rect x="432" y="298" width="18" height="8" fill="#eb0800"/>
<rect x="432" y="306" width="18" height="8" fill="#ff0202"/>
<rect x="432" y="314" width="18" height="8" fill="#ff5b5b"/>
<rect x="432" y="322" width="18" height="8" fill="#ff8f8f"/>
<rect x="432" y="330" width="18" height="8" fill="#ffadad"/>
<rect x="432" y="338" width="18" height="16" fill="#ffb5b5"/>
<rect x="432" y="354" width="18" height="8" fill="#ffb1b1"/>
<rect x="432" y="362" width="18" height="8" fill="#ffa2a2"/>
<rect x="432" y="370" width="18" height="8" fill="#ff8c8c"/>
<rect x="432" y="378" width="18" height="8" fill="#ff7d7d"/>
<rect x="432" y="386" width="18" height="8" fill="#ff7575"/>
<rect x="432" y="394" width="18" height="8" fill="#ff6a6a"/>
<rect x="432" y="402" width="18" height="8" fill="#ff5f5f"/>
<rect x="432" y="410" width="18" height="8" fill="#ff5858"/>
<rect x="432" y="418" width="18" height="8" fill="#ff5050"/>
<rect x="432" y="426" width="18" height="8" fill="#ff4c4c"/>
<rect x="432" y="434" width="18" height="8" fill="#ff4b4b"/>
<rect x="432" y="442" width="18" height="8" fill="#ff4848"/>
<rect x="432" y="450" width="18" height="8" fill="#ff4747"/>
<rect x="432" y="458" width="18" height="8" fill="#ff4848"/>
<rect x="432" y="466" width="18" height="8" fill="#ff4f4f"/>
<rect x="432" y="474" width="18" height="8" fill="#ff5b5b"/>
<rect x="432" y="482" width="18" height="8" fill="#ff6a6a"/>
<rect x="432" y="490" width="18" height="8" fill="#ff7d7d"/>
<rect x="432" y="498" width="18" height="8" fill="#ff9393"/>
<rect x="432" y="506" width="18" height="8" fill="#ffa6a6"/>
<rect x="432" y="514" width="18" height="8" fill="#ffb7b7"/>
<rect x="432" y="522" width="18" height="8" fill="#ffc6c6"/>
<rect x="432" y="530" width="18" height="8" fill="#ffcece"/>
<rect x="432" y="538" width="18" height="8" fill="#ffcdcd"/>
<rect x="432" y="546" width="18" height="8" fill="#ffb8b8"/>
<rect x="432" y="554" width="18" height="8" fill="#f88"/>
<rect x="432" y="562" width="18" height="8" fill="#ff0202"/>
<rect x="432" y="570" width="18" height="8" fill="#e20c00"/>
<rect x="432" y="578" width="18" height="8" fill="#cb4500"/>
<rect x="432" y="586" width="18" height="8" fill="#93b800"/>
<rect x="432" y="594" width="18" height="8" fill="#129100"/>
<rect x="432" y="602" width="18" height="8" fill="#004744"/>
<rect x="432" y="610" width="18" height="8" fill="#000685"/>
<rect x="432" y="618" width="18" height="8" fill="#150077"/>
<rect x="432" y="626" width="18" height="8" fill="#20006d"/>
<rect x="432" y="634" width="18" height="8" fill="#2b0062"/>
<rect x="432" y="642" width="18" height="8" fill="#370056"/>
<rect x="432" y="650" width="18" height="8" fill="#40004d"/>
<rect x="432" y="658" width="18" height="8" fill="#430049"/>
<rect x="432" y="666" width="18" height="8" fill="#3e0044"/>
<rect x="432" y="674" width="18" height="8" fill="#3b0040"/>
<rect x="432" y="682" width="18" height="8" fill="#38003c"/>
<rect x="432" y="690" width="18" height="8" fill="#340038"/>
<rect x="432" y="698" width="18" height="8" fill="#2d0031"/>
<rect x="432" y="706" width="18" height="112" fill="#020003"/>
<rect x="450" y="170" width="18" height="8" fill="#250068"/>
<rect x="450" y="178" width="18" height="8" fill="#1f006d"/>
<rect x="450" y="186" width="18" height="24" fill="#1d006f"/>
<rect x="450" y="210" width="18" height="8" fill="#1b0071"/>
<rect x="450" y="218" width="18" height="8" fill="#170075"/>
<rect x="450" y="226" width="18" height="8" fill="#150077"/>
<rect x="450" y="234" width="18" height="8" fill="#12007a"/>
<rect x="450" y="242" width="18" height="8" fill="#0c007f"/>
<rect x="450" y="250" width="18" height="8" fill="#070084"/>
<rect x="450" y="258" width="18" height="8" fill="#000487"/>
<rect x="450" y="266" width="18" height="8" fill="#002665"/>
<rect x="450" y="274" width="18" height="8" fill="#005f2c"/>
<rect x="450" y="282" width="18" height="8" fill="#129100"/>
<rect x="450" y="290" width="18" height="8" fill="#7bb100"/>
<rect x="450" y="298" width="18" height="8" fill="#ca6f00"/>
<rect x="450" y="306" width="18" height="8" fill="#d31100"/>
<rect x="450" y="314" width="18" height="8" fill="#f70300"/>
<rect x="450" y="322" width="18" height="8" fill="#ff2f2f"/>
<rect x="450" y="330" width="18" height="8" fill="#ff5858"/>
<rect x="450" y="338" width="18" height="8" fill="#ff7272"/>
<rect x="450" y="346" width="18" height="8" fill="#ff7d7d"/>
<rect x="450" y="354" width="18" height="8" fill="#ff8484"/>
<rect x="450" y="362" width="18" height="16" fill="#f88"/>
<rect x="450" y="378" width="18" height="8" fill="#ff8787"/>
<rect x="450" y="386" width="18" height="8" fill="#ff8484"/>
<rect x="450" y="394" width="18" height="8" fill="#ff7c7c"/>
<rect x="450" y="402" width="18" height="8" fill="#ff6c6c"/>
<rect x="450" y="410" width="18" height="8" fill="#ff5b5b"/>
<rect x="450" y="418" width="18" height="8" fill="#ff4949"/>
<rect x="450" y="426" width="18" height="8" fill="#ff2f2f"/>
<rect x="450" y="434" width="18" height="8" fill="#ff1414"/>
<rect x="450" y="442" width="18" height="8" fill="#ff0404"/>
<rect x="450" y="450" width="18" height="16" fill="#f00"/>
<rect x="450" y="466" width="18" height="8" fill="#ff0404"/>
<rect x="450" y="474" width="18" height="8" fill="#ff1414"/>
<rect x="450" y="482" width="18" height="8" fill="#ff2b2b"/>
<rect x="450" y="490" width="18" height="8" fill="#ff3e3e"/>
<rect x="450" y="498" width="18" height="8" fill="#ff5050"/>
<rect x="450" y="506" width="18" height="8" fill="#ff6a6a"/>
<rect x="450" y="514" width="18" height="8" fill="#f88"/>
<rect x="450" y="522" width="18" height="8" fill="#ffa6a6"/>
<rect x="450" y="530" width="18" height="8" fill="#ffc0c0"/>
<rect x="450" y="538" width="18" height="16" fill="#ffcfcf"/>
<rect x="450" y="554" width="18" height="8" fill="#ffbcbc"/>
<rect x="450" y="562" width="18" height="8" fill="#ff9797"/>
<rect x="450" y="570" width="18" height="8" fill="#fc0100"/>
<rect x="450" y="578" width="18" height="8" fill="#e20c00"/>
<rect x="450" y="586" width="18" height="8" fill="#cb3000"/>
<rect x="450" y="594" width="18" height="8" fill="#c8b900"/>
<rect x="450" y="602" width="18" height="8" fill="#078d00"/>
<rect x="450" y="610" width="18" height="8" fill="#005734"/>
<rect x="450" y="618" width="18" height="8" fill="#000e7d"/>
<rect x="450" y="626" width="18" height="8" fill="#11007b"/>
<rect x="450" y="634" width="18" height="8" fill="#20006d"/>
<rect x="450" y="642" width="18" height="8" fill="#2e005f"/>
<rect x="450" y="650" width="18" height="8" fill="#3c0052"/>
<rect x="450" y="658" width="18" height="8" fill="#400046"/>
<rect x="450" y="666" width="18" height="8" fill="#3a003f"/>
<rect x="450" y="674" width="18" height="8" fill="#36003a"/>
<rect x="450" y="682" width="18" height="8" fill="#320036"/>
<rect x="450" y="690" width="18" height="8" fill="#2e0032"/>
<rect x="450" y="698" width="18" height="8" fill="#2b002f"/>
<rect x="450" y="706" width="18" height="8" fill="#29002d"/>
<rect x="450" y="714" width="18" height="104" fill="#020003"/>
<rect x="468" y="170" width="18" height="8" fill="#020003"/>
<rect x="468" y="178" width="18" height="56" fill="#3c0042"/>
<rect x="468" y="234" width="18" height="8" fill="#400046"/>
<rect x="468" y="242" width="18" height="8" fill="#3c0051"/>
<rect x="468" y="250" width="18" height="8" fill="#2d0060"/>
<rect x="468" y="258" width="18" height="8" fill="#150077"/>
<rect x="468" y="266" width="18" height="8" fill="#070084"/>
<rect x="468" y="274" width="18" height="8" fill="#000883"/>
<rect x="468" y="282" width="18" height="8" fill="#002269"/>
<rect x="468" y="290" width="18" height="8" fill="#004744"/>
<rect x="468" y="298" width="18" height="8" fill="#008803"/>
<rect x="468" y="306" width="18" height="8" fill="#64aa00"/>
<rect x="468" y="314" width="18" height="8" fill="#c9ae00"/>
<rect x="468" y="322" width="18" height="8" fill="#cb3b00"/>
<rect x="468" y="330" width="18" height="8" fill="#e50a00"/>
<rect x="468" y="338" width="18" height="8" fill="#fc0100"/>
<rect x="468" y="346" width="18" height="8" fill="#ff0808"/>
<rect x="468" y="354" width="18" height="8" fill="#ff2a2a"/>
<rect x="468" y="362" width="18" height="8" fill="#ff4949"/>
<rect x="468" y="370" width="18" height="8" fill="#ff5858"/>
<rect x="468" y="378" width="18" height="8" fill="#ff6363"/>
<rect x="468" y="386" width="18" height="8" fill="#ff7272"/>
<rect x="468" y="394" width="18" height="16" fill="#ff7979"/>
<rect x="468" y="410" width="18" height="8" fill="#ff7575"/>
<rect x="468" y="418" width="18" height="8" fill="#ff6a6a"/>
<rect x="468" y="426" width="18" height="8" fill="#ff5858"/>
<rect x="468" y="434" width="18" height="8" fill="#ff3e3e"/>
<rect x="468" y="442" width="18" height="8" fill="#ff1f1f"/>
<rect x="468" y="450" width="18" height="8" fill="#ff0707"/>
<rect x="468" y="458" width="18" height="32" fill="#f00"/>
<rect x="468" y="490" width="18" height="8" fill="#ff0404"/>
<rect x="468" y="498" width="18" height="8" fill="#ff1414"/>
<rect x="468" y="506" width="18" height="8" fill="#ff2f2f"/>
<rect x="468" y="514" width="18" height="8" fill="#ff4c4c"/>
<rect x="468" y="522" width="18" height="8" fill="#ff6a6a"/>
<rect x="468" y="530" width="18" height="8" fill="#f88"/>
<rect x="468" y="538" width="18" height="8" fill="#ffa2a2"/>
<rect x="468" y="546" width="18" height="16" fill="#ffb1b1"/>
<rect x="468" y="562" width="18" height="8" fill="#ff9797"/>
<rect x="468" y="570" width="18" height="8" fill="#ff5b5b"/>
<rect x="468" y="578" width="18" height="8" fill="#f70300"/>
<rect x="468" y="586" width="18" height="8" fill="#e20c00"/>
<rect x="468" y="594" width="18" height="8" fill="#cb3000"/>
<rect x="468" y="602" width="18" height="8" fill="#b6c200"/>
<rect x="468" y="610" width="18" height="8" fill="#359b00"/>
<rect x="468" y="618" width="18" height="8" fill="#005f2c"/>
<rect x="468" y="626" width="18" height="8" fill="#001675"/>
<rect x="468" y="634" width="18" height="8" fill="#0d007f"/>
<rect x="468" y="642" width="18" height="8" fill="#190073"/>
<rect x="468" y="650" width="18" height="8" fill="#260067"/>
<rect x="468" y="658" width="18" height="8" fill="#33005b"/>
<rect x="468" y="666" width="18" height="8" fill="#3d0050"/>
<rect x="468" y="674" width="18" height="8" fill="#400046"/>
<rect x="468" y="682" width="18" height="8" fill="#37003c"/>
<rect x="468" y="690" width="18" height="8" fill="#340038"/>
<rect x="468" y="698" width="18" height="8" fill="#310035"/>
<rect x="468" y="706" width="18" height="8" fill="#2b002e"/>
<rect x="468" y="714" width="18" height="16" fill="#28002b"/>
<rect x="468" y="730" width="18" height="88" fill="#020003"/>
<rect x="486" y="170" width="18" height="24" fill="#020003"/>
<rect x="486" y="194" width="18" height="48" fill="#320036"/>
<rect x="486" y="242" width="18" height="8" fill="#350039"/>
<rect x="486" y="250" width="18" height="8" fill="#3a003f"/>
<rect x="486" y="258" width="18" height="8" fill="#3f0045"/>
<rect x="486" y="266" width="18" height="8" fill="#41004c"/>
<rect x="486" y="274" width="18" height="8" fill="#380056"/>
<rect x="486" y="282" width="18" height="8" fill="#2c0061"/>
<rect x="486" y="290" width="18" height="8" fill="#1d006f"/>
<rect x="486" y="298" width="18" height="8" fill="#0d007f"/>
<rect x="486" y="306" width="18" height="8" fill="#000685"/>
<rect x="486" y="314" width="18" height="8" fill="#004744"/>
<rect x="486" y="322" width="18" height="8" fill="#008803"/>
<rect x="486" y="330" width="18" height="8" fill="#64aa00"/>
<rect x="486" y="338" width="18" height="8" fill="#c8c400"/>
<rect x="486" y="346" width="18" height="8" fill="#ca5a00"/>
<rect x="486" y="354" width="18" height="8" fill="#d01200"/>
<rect x="486" y="362" width="18" height="8" fill="#e20c00"/>
<rect x="486" y="370" width="18" height="8" fill="#ec0700"/>
<rect x="486" y="378" width="18" height="8" fill="#f40500"/>
<rect x="486" y="386" width="18" height="8" fill="#f80300"/>
<rect x="486" y="394" width="18" height="8" fill="#fb0200"/>
<rect x="486" y="402" width="18" height="8" fill="#ff0101"/>
<rect x="486" y="410" width="18" height="8" fill="#ff1818"/>
<rect x="486" y="418" width="18" height="8" fill="#ff2020"/>
<rect x="486" y="426" width="18" height="8" fill="#ff2424"/>
<rect x="486" y="434" width="18" height="16" fill="#ff2b2b"/>
<rect x="486" y="450" width="18" height="8" fill="#ff2424"/>
<rect x="486" y="458" width="18" height="8" fill="#ff1c1c"/>
<rect x="486" y="466" width="18" height="8" fill="#ff1515"/>
<rect x="486" y="474" width="18" height="8" fill="#ff0d0d"/>
<rect x="486" y="482" width="18" height="8" fill="#ff0404"/>
<rect x="486" y="490" width="18" height="16" fill="#f00"/>
<rect x="486" y="506" width="18" height="8" fill="#ff0404"/>
<rect x="486" y="514" width="18" height="8" fill="#ff1414"/>
<rect x="486" y="522" width="18" height="8" fill="#ff2727"/>
<rect x="486" y="530" width="18" height="8" fill="#ff3636"/>
<rect x="486" y="538" width="18" height="8" fill="#ff4545"/>
<rect x="486" y="546" width="18" height="8" fill="#ff5050"/>
<rect x="486" y="554" width="18" height="16" fill="#ff5858"/>
<rect x="486" y="570" width="18" height="8" fill="#ff4545"/>
<rect x="486" y="578" width="18" height="8" fill="#ff2020"/>
<rect x="486" y="586" width="18" height="8" fill="#e50a00"/>
<rect x="486" y="594" width="18" height="8" fill="#d31100"/>
<rect x="486" y="602" width="18" height="8" fill="#c98f00"/>
<rect x="486" y="610" width="18" height="8" fill="#87b400"/>
<rect x="486" y="618" width="18" height="8" fill="#129100"/>
<rect x="486" y="626" width="18" height="8" fill="#005734"/>
<rect x="486" y="634" width="18" height="8" fill="#001e6d"/>
<rect x="486" y="642" width="18" height="8" fill="#040087"/>
<rect x="486" y="650" width="18" height="8" fill="#150077"/>
<rect x="486" y="658" width="18" height="8" fill="#250068"/>
<rect x="486" y="666" width="18" height="8" fill="#33005a"/>
<rect x="486" y="674" width="18" height="8" fill="#3e004f"/>
<rect x="486" y="682" width="18" height="8" fill="#3f0045"/>
<rect x="486" y="690" width="18" height="8" fill="#37003b"/>
<rect x="486" y="698" width="18" height="8" fill="#340038"/>
<rect x="486" y="706" width="18" height="8" fill="#310035"/>
<rect x="486" y="714" width="18" height="8" fill="#2b002e"/>
<rect x="486" y="722" width="18" height="16" fill="#28002b"/>
<rect x="486" y="738" width="18" height="80" fill="#020003"/>
<rect x="504" y="170" width="18" height="32" fill="#020003"/>
<rect x="504" y="202" width="18" height="48" fill="#28002b"/>
<rect x="504" y="250" width="18" height="8" fill="#2a002e"/>
<rect x="504" y="258" width="18" height="8" fill="#2f0034"/>
<rect x="504" y="266" width="18" height="8" fill="#320036"/>
<rect x="504" y="274" width="18" height="8" fill="#350039"/>
<rect x="504" y="282" width="18" height="8" fill="#3a003f"/>
<rect x="504" y="290" width="18" height="8" fill="#3f0045"/>
<rect x="504" y="298" width="18" height="8" fill="#3f004e"/>
<rect x="504" y="306" width="18" height="8" fill="#31005c"/>
<rect x="504" y="314" width="18" height="8" fill="#21006c"/>
<rect x="504" y="322" width="18" height="8" fill="#090082"/>
<rect x="504" y="330" width="18" height="8" fill="#001675"/>
<rect x="504" y="338" width="18" height="8" fill="#005f2c"/>
<rect x="504" y="346" width="18" height="8" fill="#078d00"/>
<rect x="504" y="354" width="18" height="8" fill="#64aa00"/>
<rect x="504" y="362" width="18" height="8" fill="#c1c600"/>
<rect x="504" y="370" width="18" height="8" fill="#c98f00"/>
<rect x="504" y="378" width="18" height="8" fill="#cb5000"/>
<rect x="504" y="386" width="18" height="8" fill="#cb2e00"/>
<rect x="504" y="394" width="18" height="8" fill="#d01200"/>
<rect x="504" y="402" width="18" height="8" fill="#d90f00"/>
<rect x="504" y="410" width="18" height="136" fill="#dc0e00"/>
<rect x="504" y="546" width="18" height="8" fill="#da0e00"/>
<rect x="504" y="554" width="18" height="16" fill="#d71000"/>
<rect x="504" y="570" width="18" height="8" fill="#d90f00"/>
<rect x="504" y="578" width="18" height="8" fill="#db0e00"/>
<rect x="504" y="586" width="18" height="8" fill="#dc0e00"/>
<rect x="504" y="594" width="18" height="8" fill="#cc2600"/>
<rect x="504" y="602" width="18" height="8" fill="#ca7a00"/>
<rect x="504" y="610" width="18" height="8" fill="#c1c600"/>
<rect x="504" y="618" width="18" height="8" fill="#58a600"/>
<rect x="504" y="626" width="18" height="8" fill="#078d00"/>
<rect x="504" y="634" width="18" height="8" fill="#005f2c"/>
<rect x="504" y="642" width="18" height="8" fill="#002e5d"/>
<rect x="504" y="650" width="18" height="8" fill="#01008a"/>
<rect x="504" y="658" width="18" height="8" fill="#10007c"/>
<rect x="504" y="666" width="18" height="8" fill="#1d006f"/>
<rect x="504" y="674" width="18" height="8" fill="#2a0063"/>
<rect x="504" y="682" width="18" height="8" fill="#390054"/>
<rect x="504" y="690" width="18" height="8" fill="#410047"/>
<rect x="504" y="698" width="18" height="8" fill="#39003e"/>
<rect x="504" y="706" width="18" height="8" fill="#36003b"/>
<rect x="504" y="714" width="18" height="8" fill="#320037"/>
<rect x="504" y="722" width="18" height="8" fill="#2b002f"/>
<rect x="504" y="730" width="18" height="8" fill="#26002a"/>
<rect x="504" y="738" width="18" height="8" fill="#250028"/>
<rect x="504" y="746" width="18" height="8" fill="#240027"/>
<rect x="504" y="754" width="18" height="64" fill="#020003"/>
<rect x="522" y="170" width="18" height="48" fill="#020003"/>
<rect x="522" y="218" width="18" height="48" fill="#230026"/>
<rect x="522" y="266" width="18" height="8" fill="#250029"/>
<rect x="522" y="274" width="18" height="8" fill="#2b002e"/>
<rect x="522" y="282" width="18" height="16" fill="#2d0031"/>
<rect x="522" y="298" width="18" height="8" fill="#300034"/>
<rect x="522" y="306" width="18" height="8" fill="#36003b"/>
<rect x="522" y="314" width="18" height="8" fill="#3d0042"/>
<rect x="522" y="322" width="18" height="8" fill="#40004e"/>
<rect x="522" y="330" width="18" height="8" fill="#31005c"/>
<rect x="522" y="338" width="18" height="8" fill="#20006d"/>
<rect x="522" y="346" width="18" height="8" fill="#0d007f"/>
<rect x="522" y="354" width="18" height="8" fill="#001675"/>
<rect x="522" y="362" width="18" height="8" fill="#004744"/>
<rect x="522" y="370" width="18" height="8" fill="#007f0c"/>
<rect x="522" y="378" width="18" height="8" fill="#419f00"/>
<rect x="522" y="386" width="18" height="8" fill="#87b400"/>
<rect x="522" y="394" width="18" height="8" fill="#c8c400"/>
<rect x="522" y="402" width="18" height="8" fill="#c99c00"/>
<rect x="522" y="410" width="18" height="8" fill="#ca8200"/>
<rect x="522" y="418" width="18" height="8" fill="#ca7700"/>
<rect x="522" y="426" width="18" height="8" fill="#ca7200"/>
<rect x="522" y="434" width="18" height="8" fill="#ca6e00"/>
<rect x="522" y="442" width="18" height="8" fill="#ca6d00"/>
<rect x="522" y="450" width="18" height="8" fill="#ca6c00"/>
<rect x="522" y="458" width="18" height="8" fill="#ca6a00"/>
<rect x="522" y="466" width="18" height="8" fill="#ca6900"/>
<rect x="522" y="474" width="18" height="8" fill="#ca6800"/>
<rect x="522" y="482" width="18" height="8" fill="#ca6600"/>
<rect x="522" y="490" width="18" height="8" fill="#ca6300"/>
<rect x="522" y="498" width="18" height="8" fill="#ca5d00"/>
<rect x="522" y="506" width="18" height="8" fill="#ca5a00"/>
<rect x="522" y="514" width="18" height="8" fill="#ca5800"/>
<rect x="522" y="522" width="18" height="8" fill="#cb5000"/>
<rect x="522" y="530" width="18" height="8" fill="#cb4800"/>
<rect x="522" y="538" width="18" height="8" fill="#cb4500"/>
<rect x="522" y="546" width="18" height="8" fill="#cb4000"/>
<rect x="522" y="554" width="18" height="8" fill="#cb3600"/>
<rect x="522" y="562" width="18" height="8" fill="#cb3300"/>
<rect x="522" y="570" width="18" height="8" fill="#cb3e00"/>
<rect x="522" y="578" width="18" height="8" fill="#cb5300"/>
<rect x="522" y="586" width="18" height="8" fill="#ca6f00"/>
<rect x="522" y="594" width="18" height="8" fill="#c99400"/>
<rect x="522" y="602" width="18" height="8" fill="#c8c400"/>
<rect x="522" y="610" width="18" height="8" fill="#93b800"/>
<rect x="522" y="618" width="18" height="8" fill="#4da200"/>
<rect x="522" y="626" width="18" height="8" fill="#129100"/>
<rect x="522" y="634" width="18" height="8" fill="#006724"/>
<rect x="522" y="642" width="18" height="8" fill="#002e5d"/>
<rect x="522" y="650" width="18" height="8" fill="#01008a"/>
<rect x="522" y="658" width="18" height="8" fill="#0d007f"/>
<rect x="522" y="666" width="18" height="8" fill="#190073"/>
<rect x="522" y="674" width="18" height="8" fill="#250068"/>
<rect x="522" y="682" width="18" height="8" fill="#31005c"/>
<rect x="522" y="690" width="18" height="8" fill="#3d0050"/>
<rect x="522" y="698" width="18" height="8" fill="#3f0045"/>
<rect x="522" y="706" width="18" height="8" fill="#3a003f"/>
<rect x="522" y="714" width="18" height="8" fill="#36003a"/>
<rect x="522" y="722" width="18" height="8" fill="#300035"/>
<rect x="522" y="730" width="18" height="8" fill="#2e0032"/>
<rect x="522" y="738" width="18" height="8" fill="#2b002f"/>
<rect x="522" y="746" width="18" height="8" fill="#26002a"/>
<rect x="522" y="754" width="18" height="16" fill="#240027"/>
<rect x="522" y="770" width="18" height="48" fill="#020003"/>
<rect x="540" y="170" width="18" height="64" fill="#020003"/>
<rect x="540" y="234" width="18" height="48" fill="#210024"/>
<rect x="540" y="282" width="18" height="8" fill="#240027"/>
<rect x="540" y="290" width="18" height="8" fill="#29002d"/>
<rect x="540" y="298" width="18" height="16" fill="#2c002f"/>
<rect x="540" y="314" width="18" height="8" fill="#2f0033"/>
<rect x="540" y="322" width="18" height="8" fill="#350039"/>
<rect x="540" y="330" width="18" height="8" fill="#3b0040"/>
<rect x="540" y="338" width="18" height="8" fill="#44004a"/>
<rect x="540" y="346" width="18" height="8" fill="#350059"/>
<rect x="540" y="354" width="18" height="8" fill="#240069"/>
<rect x="540" y="362" width="18" height="8" fill="#11007b"/>
<rect x="540" y="370" width="18" height="8" fill="#000685"/>
<rect x="540" y="378" width="18" height="8" fill="#003655"/>
<rect x="540" y="386" width="18" height="8" fill="#006724"/>
<rect x="540" y="394" width="18" height="8" fill="#018b00"/>
<rect x="540" y="402" width="18" height="8" fill="#279700"/>
<rect x="540" y="410" width="18" height="8" fill="#419f00"/>
<rect x="540" y="418" width="18" height="8" fill="#53a400"/>
<rect x="540" y="426" width="18" height="8" fill="#5ba700"/>
<rect x="540" y="434" width="18" height="8" fill="#61a900"/>
<rect x="540" y="442" width="18" height="16" fill="#64aa00"/>
<rect x="540" y="458" width="18" height="8" fill="#5ea800"/>
<rect x="540" y="466" width="18" height="8" fill="#53a400"/>
<rect x="540" y="474" width="18" height="8" fill="#47a100"/>
<rect x="540" y="482" width="18" height="8" fill="#3b9d00"/>
<rect x="540" y="490" width="18" height="16" fill="#359b00"/>
<rect x="540" y="506" width="18" height="8" fill="#389c00"/>
<rect x="540" y="514" width="18" height="8" fill="#3e9e00"/>
<rect x="540" y="522" width="18" height="8" fill="#47a100"/>
<rect x="540" y="530" width="18" height="8" fill="#58a600"/>
<rect x="540" y="538" width="18" height="8" fill="#70ad00"/>
<rect x="540" y="546" width="18" height="8" fill="#87b400"/>
<rect x="540" y="554" width="18" height="8" fill="#9ebb00"/>
<rect x="540" y="562" width="18" height="8" fill="#b0c100"/>
<rect x="540" y="570" width="18" height="8" fill="#b6c200"/>
<rect x="540" y="578" width="18" height="8" fill="#b3c200"/>
<rect x="540" y="586" width="18" height="8" fill="#a7be00"/>
<rect x="540" y="594" width="18" height="8" fill="#90b700"/>
<rect x="540" y="602" width="18" height="8" fill="#6dac00"/>
<rect x="540" y="610" width="18" height="8" fill="#3e9e00"/>
<rect x="540" y="618" width="18" height="8" fill="#078d00"/>
<rect x="540" y="626" width="18" height="8" fill="#006724"/>
<rect x="540" y="634" width="18" height="8" fill="#003f4c"/>
<rect x="540" y="642" width="18" height="8" fill="#001a71"/>
<rect x="540" y="650" width="18" height="8" fill="#01008a"/>
<rect x="540" y="658" width="18" height="8" fill="#0c007f"/>
<rect x="540" y="666" width="18" height="8" fill="#160076"/>
<rect x="540" y="674" width="18" height="8" fill="#21006c"/>
<rect x="540" y="682" width="18" height="8" fill="#2d0060"/>
<rect x="540" y="690" width="18" height="8" fill="#3a0054"/>
<rect x="540" y="698" width="18" height="8" fill="#43004b"/>
<rect x="540" y="706" width="18" height="8" fill="#400045"/>
<rect x="540" y="714" width="18" height="8" fill="#3a003f"/>
<rect x="540" y="722" width="18" height="8" fill="#38003c"/>
<rect x="540" y="730" width="18" height="8" fill="#35003a"/>
<rect x="540" y="738" width="18" height="8" fill="#300035"/>
<rect x="540" y="746" width="18" height="8" fill="#2e0032"/>
<rect x="540" y="754" width="18" height="8" fill="#2b002f"/>
<rect x="540" y="762" width="18" height="8" fill="#26002a"/>
<rect x="540" y="770" width="18" height="16" fill="#240027"/>
<rect x="540" y="786" width="18" height="32" fill="#020003"/>
<rect x="558" y="170" width="18" height="80" fill="#020003"/>
<rect x="558" y="250" width="18" height="48" fill="#210024"/>
<rect x="558" y="298" width="18" height="8" fill="#240027"/>
<rect x="558" y="306" width="18" height="8" fill="#29002d"/>
<rect x="558" y="314" width="18" height="16" fill="#2c002f"/>
<rect x="558" y="330" width="18" height="8" fill="#2e0032"/>
<rect x="558" y="338" width="18" height="8" fill="#330038"/>
<rect x="558" y="346" width="18" height="8" fill="#39003e"/>
<rect x="558" y="354" width="18" height="8" fill="#410047"/>
<rect x="558" y="362" width="18" height="8" fill="#390054"/>
<rect x="558" y="370" width="18" height="8" fill="#290064"/>
<rect x="558" y="378" width="18" height="8" fill="#190073"/>
<rect x="558" y="386" width="18" height="8" fill="#0a0081"/>
<rect x="558" y="394" width="18" height="8" fill="#000883"/>
<rect x="558" y="402" width="18" height="8" fill="#002269"/>
<rect x="558" y="410" width="18" height="8" fill="#003655"/>
<rect x="558" y="418" width="18" height="8" fill="#004546"/>
<rect x="558" y="426" width="18" height="8" fill="#004d3e"/>
<rect x="558" y="434" width="18" height="8" fill="#00513a"/>
<rect x="558" y="442" width="18" height="8" fill="#005536"/>
<rect x="558" y="450" width="18" height="16" fill="#005734"/>
<rect x="558" y="466" width="18" height="8" fill="#005536"/>
<rect x="558" y="474" width="18" height="8" fill="#00513a"/>
<rect x="558" y="482" width="18" height="8" fill="#004b40"/>
<rect x="558" y="490" width="18" height="8" fill="#004348"/>
<rect x="558" y="498" width="18" height="24" fill="#003f4c"/>
<rect x="558" y="522" width="18" height="8" fill="#00414a"/>
<rect x="558" y="530" width="18" height="8" fill="#004744"/>
<rect x="558" y="538" width="18" height="8" fill="#00513a"/>
<rect x="558" y="546" width="18" height="8" fill="#005f2c"/>
<rect x="558" y="554" width="18" height="8" fill="#006f1c"/>
<rect x="558" y="562" width="18" height="8" fill="#007b10"/>
<rect x="558" y="570" width="18" height="32" fill="#007f0c"/>
<rect x="558" y="602" width="18" height="8" fill="#007912"/>
<rect x="558" y="610" width="18" height="8" fill="#006724"/>
<rect x="558" y="618" width="18" height="8" fill="#004d3e"/>
<rect x="558" y="626" width="18" height="8" fill="#002e5d"/>
<rect x="558" y="634" width="18" height="8" fill="#00107b"/>
<rect x="558" y="642" width="18" height="8" fill="#050086"/>
<rect x="558" y="650" width="18" height="8" fill="#10007c"/>
<rect x="558" y="658" width="18" height="8" fill="#190073"/>
<rect x="558" y="666" width="18" height="8" fill="#21006c"/>
<rect x="558" y="674" width="18" height="8" fill="#290064"/>
<rect x="558" y="682" width="18" height="8" fill="#33005b"/>
<rect x="558" y="690" width="18" height="8" fill="#3d0051"/>
<rect x="558" y="698" width="18" height="8" fill="#420048"/>
<rect x="558" y="706" width="18" height="8" fill="#3d0042"/>
<rect x="558" y="714" width="18" height="8" fill="#39003e"/>
<rect x="558" y="722" width="18" height="8" fill="#340039"/>
<rect x="558" y="730" width="18" height="8" fill="#310036"/>
<rect x="558" y="738" width="18" height="8" fill="#300034"/>
<rect x="558" y="746" width="18" height="8" fill="#2d0031"/>
<rect x="558" y="754" width="18" height="8" fill="#29002c"/>
<rect x="558" y="762" width="18" height="8" fill="#260029"/>
<rect x="558" y="770" width="18" height="8" fill="#240028"/>
<rect x="558" y="778" width="18" height="8" fill="#220025"/>
<rect x="558" y="786" width="18" height="8" fill="#1f0022"/>
<rect x="558" y="794" width="18" height="8" fill="#1e0021"/>
<rect x="558" y="802" width="18" height="16" fill="#020003"/>
<rect x="576" y="170" width="18" height="96" fill="#020003"/>
<rect x="576" y="266" width="18" height="24" fill="#260029"/>
<rect x="576" y="290" width="18" height="8" fill="#28002c"/>
<rect x="576" y="298" width="18" height="8" fill="#2d0031"/>
<rect x="576" y="306" width="18" height="16" fill="#300034"/>
<rect x="576" y="322" width="18" height="8" fill="#320036"/>
<rect x="576" y="330" width="18" height="8" fill="#37003c"/>
<rect x="576" y="338" width="18" height="8" fill="#39003e"/>
<rect x="576" y="346" width="18" height="8" fill="#3c0042"/>
<rect x="576" y="354" width="18" height="8" fill="#430049"/>
<rect x="576" y="362" width="18" height="8" fill="#3f004f"/>
<rect x="576" y="370" width="18" height="8" fill="#340059"/>
<rect x="576" y="378" width="18" height="8" fill="#270066"/>
<rect x="576" y="386" width="18" height="8" fill="#1f006d"/>
<rect x="576" y="394" width="18" height="16" fill="#1d006f"/>
<rect x="576" y="410" width="18" height="8" fill="#1a0072"/>
<rect x="576" y="418" width="18" height="8" fill="#140078"/>
<rect x="576" y="426" width="18" height="32" fill="#11007b"/>
<rect x="576" y="458" width="18" height="8" fill="#10007c"/>
<rect x="576" y="466" width="18" height="8" fill="#0e007e"/>
<rect x="576" y="474" width="18" height="96" fill="#0d007f"/>
<rect x="576" y="570" width="18" height="8" fill="#0b0080"/>
<rect x="576" y="578" width="18" height="8" fill="#070084"/>
<rect x="576" y="586" width="18" height="8" fill="#020089"/>
<rect x="576" y="594" width="18" height="8" fill="#000a81"/>
<rect x="576" y="602" width="18" height="8" fill="#000e7d"/>
<rect x="576" y="610" width="18" height="8" fill="#000487"/>
<rect x="576" y="618" width="18" height="8" fill="#030088"/>
<rect x="576" y="626" width="18" height="8" fill="#070084"/>
<rect x="576" y="634" width="18" height="8" fill="#0b0080"/>
<rect x="576" y="642" width="18" height="8" fill="#0f007d"/>
<rect x="576" y="650" width="18" height="8" fill="#150077"/>
<rect x="576" y="658" width="18" height="8" fill="#1d006f"/>
<rect x="576" y="666" width="18" height="8" fill="#240069"/>
<rect x="576" y="674" width="18" height="8" fill="#2a0063"/>
<rect x="576" y="682" width="18" height="8" fill="#31005c"/>
<rect x="576" y="690" width="18" height="8" fill="#390055"/>
<rect x="576" y="698" width="18" height="8" fill="#3d0051"/>
<rect x="576" y="706" width="18" height="8" fill="#41004d"/>
<rect x="576" y="714" width="18" height="8" fill="#3e0043"/>
<rect x="576" y="722" width="18" height="8" fill="#39003e"/>
<rect x="576" y="730" width="18" height="8" fill="#350039"/>
<rect x="576" y="738" width="18" height="8" fill="#2c0030"/>
<rect x="576" y="746" width="18" height="8" fill="#28002b"/>
<rect x="576" y="754" width="18" height="8" fill="#260029"/>
<rect x="576" y="762" width="18" height="8" fill="#220025"/>
<rect x="576" y="770" width="18" height="8" fill="#200023"/>
<rect x="576" y="778" width="18" height="8" fill="#1e0021"/>
<rect x="576" y="786" width="18" height="8" fill="#1b001d"/>
<rect x="576" y="794" width="18" height="24" fill="#19001c"/>
<rect x="594" y="170" width="18" height="112" fill="#020003"/>
<rect x="594" y="282" width="18" height="24" fill="#2d0031"/>
<rect x="594" y="306" width="18" height="8" fill="#300034"/>
<rect x="594" y="314" width="18" height="8" fill="#340039"/>
<rect x="594" y="322" width="18" height="24" fill="#37003c"/>
<rect x="594" y="346" width="18" height="8" fill="#39003e"/>
<rect x="594" y="354" width="18" height="8" fill="#3d0043"/>
<rect x="594" y="362" width="18" height="16" fill="#3f0045"/>
<rect x="594" y="378" width="18" height="8" fill="#420048"/>
<rect x="594" y="386" width="18" height="8" fill="#40004e"/>
<rect x="594" y="394" width="18" height="16" fill="#3d0051"/>
<rect x="594" y="410" width="18" height="8" fill="#390055"/>
<rect x="594" y="418" width="18" height="8" fill="#31005c"/>
<rect x="594" y="426" width="18" height="168" fill="#2d0060"/>
<rect x="594" y="594" width="18" height="8" fill="#2b0062"/>
<rect x="594" y="602" width="18" height="8" fill="#270066"/>
<rect x="594" y="610" width="18" height="24" fill="#250068"/>
<rect x="594" y="634" width="18" height="8" fill="#270066"/>
<rect x="594" y="642" width="18" height="8" fill="#2b0062"/>
<rect x="594" y="650" width="18" height="8" fill="#2d0060"/>
<rect x="594" y="658" width="18" height="8" fill="#32005b"/>
<rect x="594" y="666" width="18" height="8" fill="#3c0052"/>
<rect x="594" y="674" width="18" height="8" fill="#430049"/>
<rect x="594" y="682" width="18" height="8" fill="#3c0041"/>
<rect x="594" y="690" width="18" height="16" fill="#38003c"/>
<rect x="594" y="706" width="18" height="8" fill="#350039"/>
<rect x="594" y="714" width="18" height="8" fill="#2f0033"/>
<rect x="594" y="722" width="18" height="16" fill="#2c002f"/>
<rect x="594" y="738" width="18" height="8" fill="#29002d"/>
<rect x="594" y="746" width="18" height="8" fill="#240027"/>
<rect x="594" y="754" width="18" height="16" fill="#210024"/>
<rect x="594" y="770" width="18" height="8" fill="#1f0022"/>
<rect x="594" y="778" width="18" height="8" fill="#1b001e"/>
<rect x="594" y="786" width="18" height="32" fill="#19001c"/>
<rect x="612" y="170" width="18" height="120" fill="#020003"/>
<rect x="612" y="290" width="18" height="16" fill="#2d0031"/>
<rect x="612" y="306" width="18" height="8" fill="#300034"/>
<rect x="612" y="314" width="18" height="8" fill="#35003a"/>
<rect x="612" y="322" width="18" height="8" fill="#38003d"/>
<rect x="612" y="330" width="18" height="16" fill="#39003e"/>
<rect x="612" y="346" width="18" height="8" fill="#3a003f"/>
<rect x="612" y="354" width="18" height="16" fill="#3b0040"/>
<rect x="612" y="370" width="18" height="8" fill="#3c0041"/>
<rect x="612" y="378" width="18" height="8" fill="#3d0042"/>
<rect x="612" y="386" width="18" height="8" fill="#3d0043"/>
<rect x="612" y="394" width="18" height="200" fill="#3e0043"/>
<rect x="612" y="594" width="18" height="8" fill="#3d0043"/>
<rect x="612" y="602" width="18" height="8" fill="#3d0042"/>
<rect x="612" y="610" width="18" height="40" fill="#3c0042"/>
<rect x="612" y="650" width="18" height="8" fill="#3a003f"/>
<rect x="612" y="658" width="18" height="8" fill="#350039"/>
<rect x="612" y="666" width="18" height="16" fill="#320036"/>
<rect x="612" y="682" width="18" height="8" fill="#2f0034"/>
<rect x="612" y="690" width="18" height="8" fill="#2a002e"/>
<rect x="612" y="698" width="18" height="24" fill="#28002b"/>
<rect x="612" y="722" width="18" height="8" fill="#250029"/>
<rect x="612" y="730" width="18" height="8" fill="#210023"/>
<rect x="612" y="738" width="18" height="32" fill="#1e0021"/>
<rect x="612" y="770" width="18" height="8" fill="#1d0020"/>
<rect x="612" y="778" width="18" height="8" fill="#1b001d"/>
<rect x="612" y="786" width="18" height="32" fill="#19001c"/>
<rect x="630" y="170" width="18" height="128" fill="#020003"/>
<rect x="630" y="298" width="18" height="80" fill="#42004c"/>
<rect x="630" y="378" width="18" height="8" fill="#430049"/>
<rect x="630" y="386" width="18" height="8" fill="#3e0044"/>
<rect x="630" y="394" width="18" height="24" fill="#3c0041"/>
<rect x="630" y="418" width="18" height="8" fill="#39003e"/>
<rect x="630" y="426" width="18" height="8" fill="#340039"/>
<rect x="630" y="434" width="18" height="160" fill="#320036"/>
<rect x="630" y="594" width="18" height="8" fill="#310035"/>
<rect x="630" y="602" width="18" height="8" fill="#2e0033"/>
<rect x="630" y="610" width="18" height="40" fill="#2d0031"/>
<rect x="630" y="650" width="18" height="8" fill="#2b002e"/>
<rect x="630" y="658" width="18" height="8" fill="#250029"/>
<rect x="630" y="666" width="18" height="48" fill="#230026"/>
<rect x="630" y="714" width="18" height="8" fill="#210023"/>
<rect x="630" y="722" width="18" height="8" fill="#1c001e"/>
<rect x="630" y="730" width="18" height="88" fill="#19001c"/>
<rect x="648" y="170" width="18" height="128" fill="#020003"/>
<rect x="648" y="298" width="18" height="80" fill="#3e0043"/>
<rect x="648" y="378" width="18" height="8" fill="#3c0041"/>
<rect x="648" y="386" width="18" height="8" fill="#38003d"/>
<rect x="648" y="394" width="18" height="16" fill="#36003b"/>
<rect x="648" y="410" width="18" height="8" fill="#340039"/>
<rect x="648" y="418" width="18" height="8" fill="#300034"/>
<rect x="648" y="426" width="18" height="64" fill="#2e0032"/>
<rect x="648" y="490" width="18" height="8" fill="#2d0031"/>
<rect x="648" y="498" width="18" height="8" fill="#2a002e"/>
<rect x="648" y="506" width="18" height="88" fill="#29002d"/>
<rect x="648" y="594" width="18" height="8" fill="#28002b"/>
<rect x="648" y="602" width="18" height="8" fill="#240028"/>
<rect x="648" y="610" width="18" height="56" fill="#230026"/>
<rect x="648" y="666" width="18" height="8" fill="#210023"/>
<rect x="648" y="674" width="18" height="8" fill="#1c001e"/>
<rect x="648" y="682" width="18" height="136" fill="#19001c"/>
<rect x="666" y="170" width="18" height="120" fill="#020003"/>
<rect x="666" y="290" width="18" height="88" fill="#320036"/>
<rect x="666" y="378" width="18" height="8" fill="#300034"/>
<rect x="666" y="386" width="18" height="8" fill="#2c0030"/>
<rect x="666" y="394" width="18" height="56" fill="#2a002e"/>
<rect x="666" y="450" width="18" height="8" fill="#29002d"/>
<rect x="666" y="458" width="18" height="8" fill="#27002b"/>
<rect x="666" y="466" width="18" height="128" fill="#260029"/>
<rect x="666" y="594" width="18" height="8" fill="#240027"/>
<rect x="666" y="602" width="18" height="8" fill="#200023"/>
<rect x="666" y="610" width="18" height="88" fill="#1e0021"/>
<rect x="666" y="698" width="18" height="8" fill="#1c001e"/>
<rect x="666" y="706" width="18" height="8" fill="#160018"/>
<rect x="666" y="714" width="18" height="104" fill="#140016"/>
<rect x="684" y="170" width="18" height="112" fill="#020003"/>
<rect x="684" y="282" width="18" height="96" fill="#2b002f"/>
<rect x="684" y="378" width="18" height="8" fill="#28002b"/>
<rect x="684" y="386" width="18" height="8" fill="#220025"/>
<rect x="684" y="394" width="18" height="8" fill="#1f0022"/>
<rect x="684" y="402" width="18" height="16" fill="#1f0021"/>
<rect x="684" y="418" width="18" height="40" fill="#1e0021"/>
<rect x="684" y="458" width="18" height="24" fill="#1e0020"/>
<rect x="684" y="482" width="18" height="40" fill="#1d0020"/>
<rect x="684" y="522" width="18" height="24" fill="#1d001f"/>
<rect x="684" y="546" width="18" height="32" fill="#1c001f"/>
<rect x="684" y="578" width="18" height="16" fill="#1c001e"/>
<rect x="684" y="594" width="18" height="8" fill="#1a001c"/>
<rect x="684" y="602" width="18" height="8" fill="#160018"/>
<rect x="684" y="610" width="18" height="80" fill="#140016"/>
<rect x="684" y="690" width="18" height="8" fill="#130015"/>
<rect x="684" y="698" width="18" height="8" fill="#110012"/>
<rect x="684" y="706" width="18" height="112" fill="#100011"/>
<rect x="702" y="170" width="18" height="96" fill="#020003"/>
<rect x="702" y="266" width="18" height="112" fill="#3b0040"/>
<rect x="702" y="378" width="18" height="8" fill="#39003e"/>
<rect x="702" y="386" width="18" height="8" fill="#340039"/>
<rect x="702" y="394" width="18" height="120" fill="#320036"/>
<rect x="702" y="514" width="18" height="8" fill="#2f0034"/>
<rect x="702" y="522" width="18" height="8" fill="#2a002e"/>
<rect x="702" y="530" width="18" height="64" fill="#28002b"/>
<rect x="702" y="594" width="18" height="8" fill="#250028"/>
<rect x="702" y="602" width="18" height="8" fill="#1f0022"/>
<rect x="702" y="610" width="18" height="56" fill="#1d001f"/>
<rect x="702" y="666" width="18" height="8" fill="#1a001c"/>
<rect x="702" y="674" width="18" height="8" fill="#150017"/>
<rect x="702" y="682" width="18" height="8" fill="#120014"/>
<rect x="702" y="690" width="18" height="8" fill="#120013"/>
<rect x="702" y="698" width="18" height="8" fill="#110013"/>
<rect x="702" y="706" width="18" height="16" fill="#110012"/>
<rect x="702" y="722" width="18" height="8" fill="#100012"/>
<rect x="702" y="730" width="18" height="16" fill="#100011"/>
<rect x="702" y="746" width="18" height="8" fill="#0f0011"/>
<rect x="702" y="754" width="18" height="16" fill="#0f0010"/>
<rect x="702" y="770" width="18" height="8" fill="#0e0010"/>
<rect x="702" y="778" width="18" height="16" fill="#0e000f"/>
<rect x="702" y="794" width="18" height="8" fill="#0d000f"/>
<rect x="702" y="802" width="18" height="16" fill="#0d000e"/>
<rect x="720" y="170" width="18" height="64" fill="#0a000a"/>
<rect x="720" y="234" width="18" height="16" fill="#250068"/>
<rect x="720" y="250" width="18" height="16" fill="#240068"/>
<rect x="720" y="266" width="18" height="24" fill="#240069"/>
<rect x="720" y="290" width="18" height="16" fill="#230069"/>
<rect x="720" y="306" width="18" height="16" fill="#23006a"/>
<rect x="720" y="322" width="18" height="16" fill="#22006a"/>
<rect x="720" y="338" width="18" height="24" fill="#22006b"/>
<rect x="720" y="362" width="18" height="16" fill="#21006b"/>
<rect x="720" y="378" width="18" height="8" fill="#22006b"/>
<rect x="720" y="386" width="18" height="8" fill="#240069"/>
<rect x="720" y="394" width="18" height="80" fill="#250068"/>
<rect x="720" y="474" width="18" height="8" fill="#280065"/>
<rect x="720" y="482" width="18" height="8" fill="#2e005f"/>
<rect x="720" y="490" width="18" height="16" fill="#31005c"/>
<rect x="720" y="506" width="18" height="8" fill="#34005a"/>
<rect x="720" y="514" width="18" height="8" fill="#3a0054"/>
<rect x="720" y="522" width="18" height="32" fill="#3d0051"/>
<rect x="720" y="554" width="18" height="8" fill="#40004e"/>
<rect x="720" y="562" width="18" height="8" fill="#420048"/>
<rect x="720" y="570" width="18" height="32" fill="#3f0045"/>
<rect x="720" y="602" width="18" height="96" fill="#28002b"/>
<rect x="720" y="698" width="18" height="8" fill="#230026"/>
<rect x="720" y="706" width="18" height="8" fill="#1a001c"/>
<rect x="720" y="714" width="18" height="8" fill="#150017"/>
<rect x="720" y="722" width="18" height="16" fill="#140016"/>
<rect x="720" y="738" width="18" height="8" fill="#130015"/>
<rect x="720" y="746" width="18" height="8" fill="#130014"/>
<rect x="720" y="754" width="18" height="8" fill="#120014"/>
<rect x="720" y="762" width="18" height="8" fill="#120013"/>
<rect x="720" y="770" width="18" height="8" fill="#110013"/>
<rect x="720" y="778" width="18" height="8" fill="#100012"/>
<rect x="720" y="786" width="18" height="8" fill="#100011"/>
<rect x="720" y="794" width="18" height="8" fill="#0f0011"/>
<rect x="720" y="802" width="18" height="8" fill="#0f0010"/>
<rect x="720" y="810" width="18" height="8" fill="#0e0010"/>
<rect x="738" y="170" width="18" height="40" fill="#0a000a"/>
<rect x="738" y="210" width="18" height="8" fill="#150077"/>
<rect x="738" y="218" width="18" height="8" fill="#140078"/>
<rect x="738" y="226" width="18" height="8" fill="#130079"/>
<rect x="738" y="234" width="18" height="8" fill="#11007a"/>
<rect x="738" y="242" width="18" height="8" fill="#10007c"/>
<rect x="738" y="250" width="18" height="8" fill="#0f007d"/>
<rect x="738" y="258" width="18" height="8" fill="#0e007e"/>
<rect x="738" y="266" width="18" height="8" fill="#0d007f"/>
<rect x="738" y="274" width="18" height="8" fill="#0b0080"/>
<rect x="738" y="282" width="18" height="8" fill="#0a0081"/>
<rect x="738" y="290" width="18" height="8" fill="#090082"/>
<rect x="738" y="298" width="18" height="8" fill="#080083"/>
<rect x="738" y="306" width="18" height="8" fill="#080084"/>
<rect x="738" y="314" width="18" height="8" fill="#070084"/>
<rect x="738" y="322" width="18" height="8" fill="#060085"/>
<rect x="738" y="330" width="18" height="16" fill="#050086"/>
<rect x="738" y="346" width="18" height="8" fill="#040087"/>
<rect x="738" y="354" width="18" height="8" fill="#030088"/>
<rect x="738" y="362" width="18" height="8" fill="#030089"/>
<rect x="738" y="370" width="18" height="8" fill="#020089"/>
<rect x="738" y="378" width="18" height="8" fill="#000388"/>
<rect x="738" y="386" width="18" height="8" fill="#00107b"/>
<rect x="738" y="394" width="18" height="16" fill="#001675"/>
<rect x="738" y="410" width="18" height="8" fill="#001279"/>
<rect x="738" y="418" width="18" height="8" fill="#000a81"/>
<rect x="738" y="426" width="18" height="24" fill="#000685"/>
<rect x="738" y="450" width="18" height="8" fill="#000289"/>
<rect x="738" y="458" width="18" height="8" fill="#030088"/>
<rect x="738" y="466" width="18" height="24" fill="#050086"/>
<rect x="738" y="490" width="18" height="8" fill="#080083"/>
<rect x="738" y="498" width="18" height="8" fill="#0e007e"/>
<rect x="738" y="506" width="18" height="16" fill="#11007b"/>
<rect x="738" y="522" width="18" height="8" fill="#140078"/>
<rect x="738" y="530" width="18" height="8" fill="#1a0072"/>
<rect x="738" y="538" width="18" height="16" fill="#1d006f"/>
<rect x="738" y="554" width="18" height="8" fill="#21006c"/>
<rect x="738" y="562" width="18" height="8" fill="#290064"/>
<rect x="738" y="570" width="18" height="8" fill="#2d0060"/>
<rect x="738" y="578" width="18" height="8" fill="#32005b"/>
<rect x="738" y="586" width="18" height="8" fill="#3c0052"/>
<rect x="738" y="594" width="18" height="8" fill="#43004b"/>
<rect x="738" y="602" width="18" height="8" fill="#400046"/>
<rect x="738" y="610" width="18" height="32" fill="#3e0043"/>
<rect x="738" y="642" width="18" height="8" fill="#3c0042"/>
<rect x="738" y="650" width="18" height="8" fill="#39003e"/>
<rect x="738" y="658" width="18" height="8" fill="#37003c"/>
<rect x="738" y="666" width="18" height="8" fill="#37003b"/>
<rect x="738" y="674" width="18" height="8" fill="#36003b"/>
<rect x="738" y="682" width="18" height="8" fill="#36003a"/>
<rect x="738" y="690" width="18" height="8" fill="#35003a"/>
<rect x="738" y="698" width="18" height="8" fill="#350039"/>
<rect x="738" y="706" width="18" height="8" fill="#340039"/>
<rect x="738" y="714" width="18" height="8" fill="#340038"/>
<rect x="738" y="722" width="18" height="16" fill="#330038"/>
<rect x="738" y="738" width="18" height="8" fill="#330037"/>
<rect x="738" y="746" width="18" height="8" fill="#320037"/>
<rect x="738" y="754" width="18" height="8" fill="#320036"/>
<rect x="738" y="762" width="18" height="8" fill="#310036"/>
<rect x="738" y="770" width="18" height="48" fill="#080009"/>
<rect x="756" y="170" width="18" height="24" fill="#0a000a"/>
<rect x="756" y="194" width="18" height="56" fill="#01008a"/>
<rect x="756" y="250" width="18" height="8" fill="#00008b"/>
<rect x="756" y="258" width="18" height="8" fill="#000487"/>
<rect x="756" y="266" width="18" height="24" fill="#000685"/>
<rect x="756" y="290" width="18" height="8" fill="#000c7f"/>
<rect x="756" y="298" width="18" height="8" fill="#001873"/>
<rect x="756" y="306" width="18" height="8" fill="#001e6d"/>
<rect x="756" y="314" width="18" height="8" fill="#002467"/>
<rect x="756" y="322" width="18" height="8" fill="#00305b"/>
<rect x="756" y="330" width="18" height="8" fill="#003655"/>
<rect x="756" y="338" width="18" height="8" fill="#003d4e"/>
<rect x="756" y="346" width="18" height="8" fill="#004942"/>
<rect x="756" y="354" width="18" height="24" fill="#004f3c"/>
<rect x="756" y="378" width="18" height="8" fill="#00513a"/>
<rect x="756" y="386" width="18" height="8" fill="#005536"/>
<rect x="756" y="394" width="18" height="48" fill="#005734"/>
<rect x="756" y="442" width="18" height="8" fill="#005338"/>
<rect x="756" y="450" width="18" height="8" fill="#004b40"/>
<rect x="756" y="458" width="18" height="16" fill="#004744"/>
<rect x="756" y="474" width="18" height="8" fill="#00414a"/>
<rect x="756" y="482" width="18" height="8" fill="#003457"/>
<rect x="756" y="490" width="18" height="8" fill="#002e5d"/>
<rect x="756" y="498" width="18" height="8" fill="#002a61"/>
<rect x="756" y="506" width="18" height="8" fill="#002269"/>
<rect x="756" y="514" width="18" height="8" fill="#001e6d"/>
<rect x="756" y="522" width="18" height="8" fill="#001a71"/>
<rect x="756" y="530" width="18" height="8" fill="#001279"/>
<rect x="756" y="538" width="18" height="8" fill="#000e7d"/>
<rect x="756" y="546" width="18" height="8" fill="#000a81"/>
<rect x="756" y="554" width="18" height="8" fill="#00018a"/>
<rect x="756" y="562" width="18" height="8" fill="#030088"/>
<rect x="756" y="570" width="18" height="8" fill="#040087"/>
<rect x="756" y="578" width="18" height="8" fill="#060085"/>
<rect x="756" y="586" width="18" height="8" fill="#070084"/>
<rect x="756" y="594" width="18" height="8" fill="#090082"/>
<rect x="756" y="602" width="18" height="24" fill="#21006c"/>
<rect x="756" y="626" width="18" height="8" fill="#250068"/>
<rect x="756" y="634" width="18" height="8" fill="#2d0060"/>
<rect x="756" y="642" width="18" height="24" fill="#31005c"/>
<rect x="756" y="666" width="18" height="8" fill="#34005a"/>
<rect x="756" y="674" width="18" height="8" fill="#3a0054"/>
<rect x="756" y="682" width="18" height="8" fill="#3d0050"/>
<rect x="756" y="690" width="18" height="8" fill="#3e0050"/>
<rect x="756" y="698" width="18" height="8" fill="#3e004f"/>
<rect x="756" y="706" width="18" height="8" fill="#3f004f"/>
<rect x="756" y="714" width="18" height="8" fill="#3f004e"/>
<rect x="756" y="722" width="18" height="8" fill="#40004e"/>
<rect x="756" y="730" width="18" height="8" fill="#41004d"/>
<rect x="756" y="738" width="18" height="80" fill="#080009"/>
<rect x="774" y="170" width="18" height="8" fill="#0a000a"/>
<rect x="774" y="178" width="18" height="24" fill="#000685"/>
<rect x="774" y="202" width="18" height="8" fill="#000c7f"/>
<rect x="774" y="210" width="18" height="8" fill="#001873"/>
<rect x="774" y="218" width="18" height="16" fill="#001e6d"/>
<rect x="774" y="234" width="18" height="8" fill="#002467"/>
<rect x="774" y="242" width="18" height="8" fill="#00305b"/>
<rect x="774" y="250" width="18" height="16" fill="#003655"/>
<rect x="774" y="266" width="18" height="8" fill="#003a51"/>
<rect x="774" y="274" width="18" height="8" fill="#004348"/>
<rect x="774" y="282" width="18" height="8" fill="#004744"/>
<rect x="774" y="290" width="18" height="8" fill="#004b40"/>
<rect x="774" y="298" width="18" height="8" fill="#005338"/>
<rect x="774" y="306" width="18" height="8" fill="#005b30"/>
<rect x="774" y="314" width="18" height="8" fill="#006328"/>
<rect x="774" y="322" width="18" height="8" fill="#006b20"/>
<rect x="774" y="330" width="18" height="8" fill="#007318"/>
<rect x="774" y="338" width="18" height="8" fill="#007b10"/>
<rect x="774" y="346" width="18" height="8" fill="#008407"/>
<rect x="774" y="354" width="18" height="8" fill="#008a01"/>
<rect x="774" y="362" width="18" height="8" fill="#018b00"/>
<rect x="774" y="370" width="18" height="8" fill="#048c00"/>
<rect x="774" y="378" width="18" height="8" fill="#068d00"/>
<rect x="774" y="386" width="18" height="48" fill="#078d00"/>
<rect x="774" y="434" width="18" height="8" fill="#018b00"/>
<rect x="774" y="442" width="18" height="8" fill="#008308"/>
<rect x="774" y="450" width="18" height="16" fill="#007f0c"/>
<rect x="774" y="466" width="18" height="8" fill="#007b10"/>
<rect x="774" y="474" width="18" height="8" fill="#007318"/>
<rect x="774" y="482" width="18" height="8" fill="#006f1c"/>
<rect x="774" y="490" width="18" height="8" fill="#006b20"/>
<rect x="774" y="498" width="18" height="8" fill="#006328"/>
<rect x="774" y="506" width="18" height="8" fill="#005f2c"/>
<rect x="774" y="514" width="18" height="8" fill="#005932"/>
<rect x="774" y="522" width="18" height="8" fill="#004d3e"/>
<rect x="774" y="530" width="18" height="8" fill="#004744"/>
<rect x="774" y="538" width="18" height="8" fill="#00414a"/>
<rect x="774" y="546" width="18" height="8" fill="#003457"/>
<rect x="774" y="554" width="18" height="8" fill="#002a61"/>
<rect x="774" y="562" width="18" height="8" fill="#002269"/>
<rect x="774" y="570" width="18" height="8" fill="#001873"/>
<rect x="774" y="578" width="18" height="8" fill="#000c7f"/>
<rect x="774" y="586" width="18" height="8" fill="#000685"/>
<rect x="774" y="594" width="18" height="8" fill="#000289"/>
<rect x="774" y="602" width="18" height="8" fill="#030088"/>
<rect x="774" y="610" width="18" height="24" fill="#050086"/>
<rect x="774" y="634" width="18" height="8" fill="#080083"/>
<rect x="774" y="642" width="18" height="8" fill="#0e007e"/>
<rect x="774" y="650" width="18" height="24" fill="#11007b"/>
<rect x="774" y="674" width="18" height="8" fill="#130079"/>
<rect x="774" y="682" width="18" height="8" fill="#170075"/>
<rect x="774" y="690" width="18" height="24" fill="#190073"/>
<rect x="774" y="714" width="18" height="104" fill="#080009"/>
</g>
<g stroke="#000" stroke-width="1" fill="none">
<rect x="144" y="170" width="648" height="648"/>
<path d="M162.0 818v-6 M162.0 170v6"/>
<path d="M180.0 818v-6 M180.0 170v6"/>
<path d="M198.0 818v-6 M198.0 170v6"/>
<path d="M216.0 818v-6 M216.0 170v6"/>
<path d="M234.0 818v-13 M234.0 170v13"/>
<path d="M252.0 818v-6 M252.0 170v6"/>
<path d="M270.0 818v-6 M270.0 170v6"/>
<path d="M288.0 818v-6 M288.0 170v6"/>
<path d="M306.0 818v-6 M306.0 170v6"/>
<path d="M324.0 818v-13 M324.0 170v13"/>
<path d="M342.0 818v-6 M342.0 170v6"/>
<path d="M360.0 818v-6 M360.0 170v6"/>
<path d="M378.0 818v-6 M378.0 170v6"/>
<path d="M396.0 818v-6 M396.0 170v6"/>
<path d="M414.0 818v-13 M414.0 170v13"/>
<path d="M432.0 818v-6 M432.0 170v6"/>
<path d="M450.0 818v-6 M450.0 170v6"/>
<path d="M468.0 818v-6 M468.0 170v6"/>
<path d="M486.0 818v-6 M486.0 170v6"/>
<path d="M504.0 818v-13 M504.0 170v13"/>
<path d="M522.0 818v-6 M522.0 170v6"/>
<path d="M540.0 818v-6 M540.0 170v6"/>
<path d="M558.0 818v-6 M558.0 170v6"/>
<path d="M576.0 818v-6 M576.0 170v6"/>
<path d="M594.0 818v-13 M594.0 170v13"/>
<path d="M612.0 818v-6 M612.0 170v6"/>
<path d="M630.0 818v-6 M630.0 170v6"/>
<path d="M648.0 818v-6 M648.0 170v6"/>
<path d="M666.0 818v-6 M666.0 170v6"/>
<path d="M684.0 818v-13 M684.0 170v13"/>
<path d="M702.0 818v-6 M702.0 170v6"/>
<path d="M720.0 818v-6 M720.0 170v6"/>
<path d="M738.0 818v-6 M738.0 170v6"/>
<path d="M756.0 818v-6 M756.0 170v6"/>
<path d="M774.0 818v-13 M774.0 170v13"/>
<path d="M144 738.0h6 M792 738.0h-6"/>
<path d="M144 658.0h13 M792 658.0h-13"/>
<path d="M144 578.0h6 M792 578.0h-6"/>
<path d="M144 498.0h13 M792 498.0h-13"/>
<path d="M144 418.0h6 M792 418.0h-6"/>
<path d="M144 338.0h13 M792 338.0h-13"/>
<path d="M144 258.0h6 M792 258.0h-6"/>
<path d="M144 178.0h13 M792 178.0h-13"/>
</g>
<defs><linearGradient id="cb" x1="0" x2="1" y1="0" y2="0">
<stop offset="0.0000" stop-color="#000"/>
<stop offset="0.1429" stop-color="#44004a"/>
<stop offset="0.2857" stop-color="#00008b"/>
<stop offset="0.4286" stop-color="#008b00"/>
<stop offset="0.5714" stop-color="#c8c800"/>
<stop offset="0.7143" stop-color="#cc1400"/>
<stop offset="0.8571" stop-color="#f00"/>
<stop offset="1.0000" stop-color="#fff"/>
</linearGradient></defs>
<rect x="540" y="34" width="324" height="14" fill="url(#cb)"/>
<g stroke="#000" stroke-width="1" fill="none" shape-rendering="crispEdges">
<rect x="539.5" y="33.5" width="324" height="14"/>
<path d="M593.5 33.5v3 M593.5 47.5v-3"/>
<path d="M647.5 33.5v3 M647.5 47.5v-3"/>
<path d="M701.5 33.5v3 M701.5 47.5v-3"/>
<path d="M755.5 33.5v3 M755.5 47.5v-3"/>
<path d="M809.5 33.5v3 M809.5 47.5v-3"/>
</g>
<g font-family="'Liberation Serif', serif" font-size="30" fill="#000">
<text x="472" y="155.3" text-anchor="middle" xml:space="preserve" letter-spacing="0.05" style="white-space:pre">PBf20130408  UT: 9  mjd: 56390</text>
<text x="703" y="19.9" text-anchor="middle">TEC</text>
<text x="540" y="81.6" text-anchor="middle">0</text>
<text x="594" y="81.6" text-anchor="middle">10</text>
<text x="648" y="81.6" text-anchor="middle">20</text>
<text x="702" y="81.6" text-anchor="middle">30</text>
<text x="756" y="81.6" text-anchor="middle">40</text>
<text x="810" y="81.6" text-anchor="middle">50</text>
<text x="864" y="81.6" text-anchor="middle">60</text>
<text x="144.0" y="851.8" text-anchor="middle">0</text>
<text x="234.0" y="851.8" text-anchor="middle">50</text>
<text x="324.0" y="851.8" text-anchor="middle">100</text>
<text x="414.0" y="851.8" text-anchor="middle">150</text>
<text x="504.0" y="851.8" text-anchor="middle">200</text>
<text x="594.0" y="851.8" text-anchor="middle">250</text>
<text x="684.0" y="851.8" text-anchor="middle">300</text>
<text x="774.0" y="851.8" text-anchor="middle">350</text>
<text x="130" y="824.7" text-anchor="end">-40</text>
<text x="130" y="664.7" text-anchor="end">-20</text>
<text x="130" y="504.7" text-anchor="end">0</text>
<text x="130" y="344.7" text-anchor="end">20</text>
<text x="130" y="184.7" text-anchor="end">40</text>
<text x="0" y="417.2">Latitude</text>
<text x="467.7" y="892.2" text-anchor="middle">Longitude</text>
</g>
</svg>
</body></html>
